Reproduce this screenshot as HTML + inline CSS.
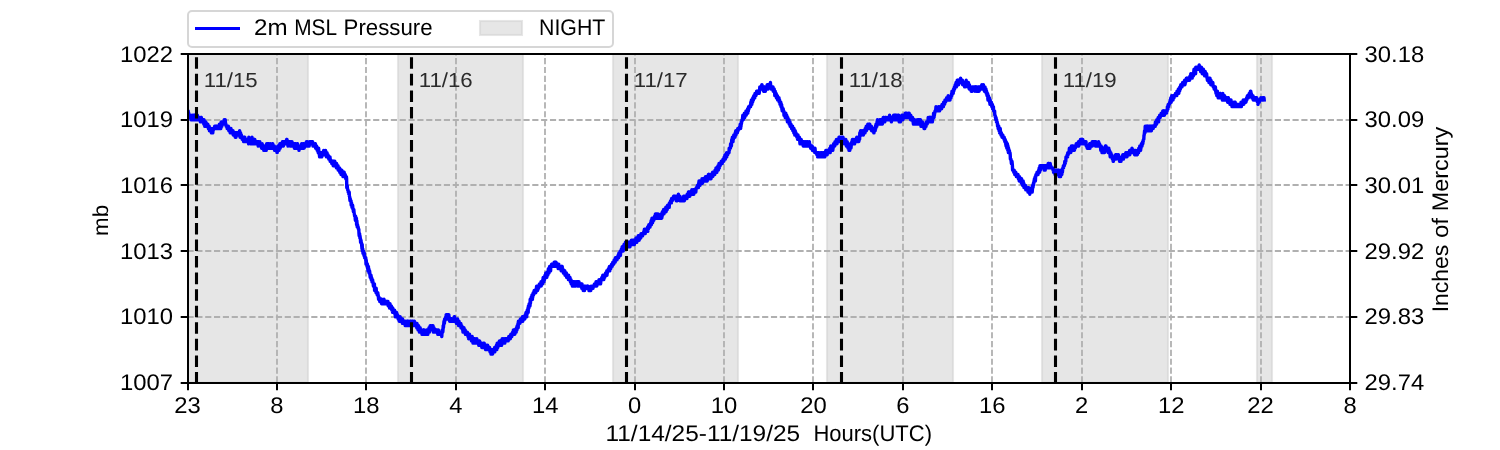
<!DOCTYPE html><html><head><meta charset="utf-8"><style>html,body{margin:0;padding:0;background:#fff;}svg{display:block;will-change:transform;}text{font-family:'Liberation Sans',sans-serif;text-rendering:geometricPrecision}</style></head><body>
<svg width="1500" height="450" viewBox="0 0 1500 450">
<rect width="1500" height="450" fill="#fff"/>
<defs><clipPath id="ax"><rect x="187.5" y="54.0" width="1162.5" height="328.5"/></clipPath></defs>
<g clip-path="url(#ax)">
<rect x="187.50" y="54.0" width="120.50" height="328.5" fill="#d3d3d3" fill-opacity="0.57" stroke="#d3d3d3" stroke-opacity="0.57" stroke-width="2.08"/>
<rect x="398.00" y="54.0" width="125.00" height="328.5" fill="#d3d3d3" fill-opacity="0.57" stroke="#d3d3d3" stroke-opacity="0.57" stroke-width="2.08"/>
<rect x="613.00" y="54.0" width="125.00" height="328.5" fill="#d3d3d3" fill-opacity="0.57" stroke="#d3d3d3" stroke-opacity="0.57" stroke-width="2.08"/>
<rect x="827.00" y="54.0" width="126.00" height="328.5" fill="#d3d3d3" fill-opacity="0.57" stroke="#d3d3d3" stroke-opacity="0.57" stroke-width="2.08"/>
<rect x="1042.00" y="54.0" width="126.00" height="328.5" fill="#d3d3d3" fill-opacity="0.57" stroke="#d3d3d3" stroke-opacity="0.57" stroke-width="2.08"/>
<rect x="1257.00" y="54.0" width="15.00" height="328.5" fill="#d3d3d3" fill-opacity="0.57" stroke="#d3d3d3" stroke-opacity="0.57" stroke-width="2.08"/>
<path d="M277 382.5V54.0M366 382.5V54.0M456 382.5V54.0M545 382.5V54.0M635 382.5V54.0M724 382.5V54.0M813 382.5V54.0M903 382.5V54.0M992 382.5V54.0M1082 382.5V54.0M1171 382.5V54.0M1261 382.5V54.0M187.5 317H1350.0M187.5 251H1350.0M187.5 185H1350.0M187.5 120H1350.0" stroke="#b0b0b0" stroke-width="1.8" stroke-dasharray="6.17 2.67" fill="none"/>
<text x="203.70" y="86.8" font-size="20.3" fill="#2b2b2b" textLength="54.0" lengthAdjust="spacingAndGlyphs">11/15</text>
<text x="418.70" y="86.8" font-size="20.3" fill="#2b2b2b" textLength="54.0" lengthAdjust="spacingAndGlyphs">11/16</text>
<text x="633.70" y="86.8" font-size="20.3" fill="#2b2b2b" textLength="54.0" lengthAdjust="spacingAndGlyphs">11/17</text>
<text x="848.70" y="86.8" font-size="20.3" fill="#2b2b2b" textLength="54.0" lengthAdjust="spacingAndGlyphs">11/18</text>
<text x="1062.70" y="86.8" font-size="20.3" fill="#2b2b2b" textLength="54.0" lengthAdjust="spacingAndGlyphs">11/19</text>
<path d="M188.0 110.9L188.2 110.9L188.4 115.3L188.6 115.3L188.8 113.1L189.0 115.3L189.4 115.3L189.6 117.5L189.8 115.3L190.0 115.3L190.2 117.5L190.8 117.5L191.0 119.7L191.2 117.5L191.4 117.5L191.6 119.7L191.8 117.5L192.0 115.3L192.2 119.7L192.4 117.5L192.6 117.5L192.8 119.7L193.0 117.5L193.2 117.5L193.4 119.7L193.6 115.3L193.8 117.5L194.0 117.5L194.2 115.3L194.4 117.5L194.6 119.7L194.8 115.3L195.0 117.5L195.2 115.3L195.4 117.5L195.6 117.5L195.8 115.3L196.0 119.7L196.2 117.5L196.4 117.5L196.6 119.7L196.8 117.5L197.0 119.7L197.2 119.7L197.4 115.3L197.6 119.7L197.8 117.5L198.2 117.5L198.4 119.7L198.6 117.5L198.8 119.7L199.0 117.5L199.2 119.7L199.6 119.7L199.8 117.5L200.0 117.5L200.2 119.7L200.4 121.9L200.6 119.7L200.8 121.9L201.0 117.5L201.2 121.9L201.4 117.5L201.6 121.9L202.6 121.9L202.8 119.7L203.6 119.7L203.8 124.1L204.0 119.7L204.2 121.9L204.4 121.9L204.6 124.1L204.8 126.3L205.0 124.1L205.2 121.9L205.4 124.1L205.6 124.1L205.8 121.9L206.0 126.3L206.2 124.1L206.4 126.3L207.2 126.3L207.4 124.1L207.6 126.3L207.8 124.1L208.0 126.3L208.2 126.3L208.4 128.5L208.6 126.3L208.8 126.3L209.0 128.5L209.2 126.3L209.4 130.7L209.6 128.5L209.8 128.5L210.0 130.7L210.2 128.5L210.6 128.5L210.8 130.7L211.0 128.5L211.2 130.7L211.4 132.8L211.6 130.7L211.8 130.7L212.0 132.8L212.2 132.8L212.4 130.7L212.6 132.8L212.8 132.8L213.0 128.5L213.2 130.7L213.4 128.5L214.4 128.5L214.6 126.3L215.0 126.3L215.2 128.5L215.4 126.3L216.0 126.3L216.2 128.5L216.4 126.3L216.6 126.3L216.8 128.5L217.0 126.3L217.8 126.3L218.0 128.5L218.2 128.5L218.4 126.3L218.6 126.3L218.8 128.5L219.2 128.5L219.4 124.1L219.6 126.3L219.8 128.5L220.0 124.1L220.2 126.3L220.4 124.1L220.6 128.5L220.8 128.5L221.0 126.3L221.2 121.9L221.4 121.9L221.6 124.1L221.8 126.3L222.0 121.9L222.2 124.1L222.4 124.1L222.6 121.9L222.8 124.1L223.0 121.9L223.2 121.9L223.4 124.1L223.6 121.9L223.8 124.1L224.0 121.9L224.2 119.7L224.4 121.9L224.6 124.1L224.8 121.9L225.0 124.1L225.2 119.7L225.4 121.9L225.6 124.1L226.0 124.1L226.2 126.3L227.0 126.3L227.2 128.5L227.4 126.3L227.6 128.5L228.2 128.5L228.4 126.3L228.6 128.5L228.8 130.7L229.2 130.7L229.4 128.5L229.6 128.5L229.8 130.7L230.0 128.5L230.2 132.8L230.6 132.8L230.8 128.5L231.0 128.5L231.2 132.8L231.4 130.7L231.8 130.7L232.0 132.8L232.2 130.7L232.4 132.8L232.8 132.8L233.0 130.7L233.2 135.0L233.4 132.8L234.0 132.8L234.2 135.0L234.4 132.8L234.6 135.0L234.8 132.8L235.0 135.0L235.2 137.2L235.4 137.2L235.6 132.8L235.8 135.0L236.0 137.2L236.2 132.8L236.4 132.8L236.6 135.0L236.8 135.0L237.0 132.8L237.6 132.8L237.8 135.0L238.0 132.8L238.2 135.0L238.4 132.8L238.8 132.8L239.0 135.0L239.2 132.8L239.4 132.8L239.6 130.7L239.8 135.0L240.0 137.2L240.2 132.8L240.6 132.8L240.8 135.0L241.0 135.0L241.2 137.2L241.4 135.0L241.6 137.2L242.0 137.2L242.2 139.4L242.4 139.4L242.6 137.2L242.8 139.4L243.0 137.2L243.2 137.2L243.4 139.4L243.6 141.6L243.8 141.6L244.0 137.2L244.2 139.4L244.4 137.2L244.8 137.2L245.0 141.6L245.2 141.6L245.4 139.4L245.8 139.4L246.0 141.6L246.2 141.6L246.4 139.4L246.6 139.4L246.8 141.6L248.0 141.6L248.2 139.4L248.4 139.4L248.6 143.8L248.8 137.2L249.0 141.6L249.2 141.6L249.4 139.4L250.4 139.4L250.6 143.8L250.8 139.4L251.0 143.8L251.2 139.4L251.4 143.8L251.6 139.4L251.8 141.6L252.0 137.2L252.2 139.4L252.4 141.6L252.8 141.6L253.0 139.4L253.2 139.4L253.4 141.6L253.6 139.4L253.8 143.8L254.0 141.6L254.2 139.4L254.4 139.4L254.6 141.6L254.8 139.4L255.0 141.6L255.4 141.6L255.6 143.8L256.2 143.8L256.4 141.6L257.0 141.6L257.2 143.8L257.4 143.8L257.6 141.6L257.8 141.6L258.0 143.8L258.2 146.0L258.4 141.6L258.6 141.6L258.8 143.8L259.6 143.8L259.8 141.6L260.0 146.0L260.2 146.0L260.4 143.8L260.8 143.8L261.0 146.0L261.2 143.8L261.4 146.0L261.6 148.2L261.8 146.0L262.0 148.2L262.2 143.8L262.4 148.2L262.6 146.0L262.8 146.0L263.0 148.2L263.2 146.0L263.6 146.0L263.8 150.4L264.0 146.0L264.2 146.0L264.4 150.4L264.6 150.4L264.8 148.2L265.0 146.0L265.2 150.4L265.4 148.2L266.0 148.2L266.2 150.4L266.4 146.0L266.6 143.8L266.8 143.8L267.0 146.0L267.2 148.2L267.4 146.0L267.6 148.2L267.8 143.8L268.0 146.0L268.2 143.8L268.4 146.0L268.6 143.8L268.8 148.2L269.0 143.8L269.2 143.8L269.4 146.0L269.8 146.0L270.0 148.2L270.2 148.2L270.4 143.8L270.6 143.8L270.8 146.0L271.4 146.0L271.6 148.2L271.8 148.2L272.0 146.0L272.2 148.2L272.4 143.8L272.8 143.8L273.0 146.0L273.2 148.2L273.4 146.0L273.6 148.2L273.8 148.2L274.0 146.0L274.4 146.0L274.6 150.4L274.8 148.2L275.2 148.2L275.4 150.4L275.6 150.4L275.8 148.2L276.0 150.4L276.8 150.4L277.0 152.6L277.2 152.6L277.4 148.2L277.6 148.2L277.8 146.0L278.0 148.2L278.2 150.4L278.4 150.4L278.6 148.2L278.8 146.0L279.0 150.4L279.2 148.2L279.4 146.0L279.6 148.2L279.8 143.8L280.0 146.0L280.2 148.2L280.4 143.8L280.6 143.8L280.8 146.0L281.2 146.0L281.4 143.8L281.6 143.8L281.8 146.0L282.0 143.8L282.2 143.8L282.4 141.6L282.6 143.8L282.8 146.0L283.0 141.6L283.2 143.8L283.4 146.0L283.6 143.8L283.8 141.6L284.0 143.8L284.2 141.6L284.6 141.6L284.8 143.8L285.2 143.8L285.4 141.6L285.6 143.8L285.8 143.8L286.0 141.6L286.4 141.6L286.6 139.4L286.8 143.8L287.0 139.4L287.2 143.8L287.4 141.6L287.6 143.8L287.8 143.8L288.0 146.0L288.2 141.6L288.4 141.6L288.6 143.8L289.0 143.8L289.2 141.6L289.4 143.8L289.6 141.6L289.8 141.6L290.0 146.0L290.4 146.0L290.6 141.6L290.8 143.8L291.0 146.0L291.2 143.8L291.4 143.8L291.6 146.0L291.8 146.0L292.0 141.6L292.2 143.8L293.0 143.8L293.2 146.0L293.4 143.8L293.6 143.8L293.8 146.0L294.0 143.8L294.2 143.8L294.4 148.2L294.6 143.8L294.8 143.8L295.0 146.0L295.2 143.8L295.4 146.0L295.6 143.8L295.8 143.8L296.0 148.2L296.2 146.0L296.4 148.2L296.8 148.2L297.0 143.8L297.2 146.0L297.4 143.8L297.6 143.8L297.8 148.2L298.0 146.0L298.2 148.2L298.8 148.2L299.0 150.4L299.2 146.0L299.4 148.2L299.8 148.2L300.0 146.0L300.2 146.0L300.4 148.2L300.6 146.0L300.8 146.0L301.0 148.2L301.2 146.0L301.4 146.0L301.6 143.8L301.8 148.2L302.4 148.2L302.6 146.0L302.8 143.8L303.0 148.2L303.2 146.0L303.4 148.2L303.6 143.8L303.8 148.2L304.0 143.8L304.2 148.2L304.4 146.0L304.8 146.0L305.0 143.8L305.2 146.0L305.4 143.8L306.2 143.8L306.4 141.6L306.6 141.6L306.8 143.8L307.0 146.0L307.2 146.0L307.4 143.8L307.6 141.6L307.8 141.6L308.0 143.8L308.2 143.8L308.4 146.0L308.6 143.8L308.8 146.0L309.2 146.0L309.4 143.8L309.6 143.8L309.8 141.6L310.0 143.8L310.2 141.6L310.4 143.8L310.6 141.6L310.8 143.8L311.0 141.6L311.2 141.6L311.4 143.8L311.8 143.8L312.0 141.6L312.2 143.8L312.4 143.8L312.6 141.6L312.8 143.8L313.0 146.0L313.2 143.8L313.4 146.0L313.6 146.0L313.8 143.8L314.2 143.8L314.4 146.0L314.8 146.0L315.0 143.8L315.2 146.0L315.4 143.8L315.6 148.2L315.8 148.2L316.0 146.0L316.2 148.2L316.4 146.0L316.6 146.0L316.8 148.2L317.0 148.2L317.2 150.4L317.4 148.2L317.6 148.2L317.8 150.4L318.0 148.2L318.2 152.6L318.4 150.4L318.6 148.2L318.8 150.4L319.0 152.6L319.2 154.7L319.4 152.6L319.6 156.9L319.8 156.9L320.0 154.7L320.2 152.6L320.4 154.7L320.6 156.9L320.8 154.7L321.2 154.7L321.4 156.9L321.6 152.6L321.8 156.9L322.0 154.7L322.6 154.7L322.8 152.6L323.4 152.6L323.6 150.4L324.0 150.4L324.2 152.6L324.4 154.7L324.6 154.7L324.8 152.6L325.0 154.7L325.2 154.7L325.4 152.6L325.6 150.4L325.8 154.7L326.2 154.7L326.4 156.9L326.6 154.7L326.8 154.7L327.0 152.6L327.2 154.7L327.4 156.9L327.6 154.7L328.0 154.7L328.2 156.9L328.6 156.9L328.8 159.1L329.6 159.1L329.8 156.9L330.0 156.9L330.2 161.3L330.4 159.1L330.6 161.3L331.6 161.3L331.8 163.5L332.0 163.5L332.2 161.3L332.6 161.3L332.8 163.5L333.0 161.3L333.2 165.7L333.4 161.3L333.6 163.5L333.8 163.5L334.0 165.7L334.4 165.7L334.6 163.5L334.8 161.3L335.0 163.5L335.2 165.7L335.4 163.5L335.6 165.7L335.8 163.5L336.0 165.7L336.2 165.7L336.4 167.9L336.6 163.5L336.8 165.7L337.0 167.9L337.2 165.7L338.0 165.7L338.2 170.1L338.4 170.1L338.6 167.9L338.8 170.1L339.2 170.1L339.4 167.9L339.6 167.9L339.8 172.3L340.0 170.1L340.2 172.3L340.6 172.3L340.8 170.1L341.0 174.5L341.2 174.5L341.4 170.1L341.6 174.5L341.8 170.1L342.0 174.5L342.2 172.3L342.4 174.5L342.6 174.5L342.8 172.3L343.0 176.6L343.2 172.3L343.4 172.3L343.6 174.5L343.8 172.3L344.0 174.5L344.2 172.3L344.4 174.5L344.6 176.6L344.8 176.6L345.0 174.5L345.2 174.5L345.4 176.6L345.6 176.6L345.8 178.8L346.0 178.8L346.2 176.6L346.4 176.6L346.6 178.8L346.8 187.6L347.0 185.4L347.2 185.4L347.4 187.6L347.6 189.8L348.0 189.8L348.2 192.0L348.6 192.0L348.8 194.2L349.0 192.0L349.2 192.0L349.4 196.3L349.6 196.3L349.8 198.5L350.0 200.7L350.2 198.5L350.4 200.7L351.0 200.7L351.2 205.1L351.4 202.9L351.6 202.9L351.8 205.1L352.0 207.3L352.2 205.1L352.4 207.3L352.6 205.1L352.8 207.3L353.0 209.5L353.2 209.5L353.4 211.7L353.6 211.7L353.8 209.5L354.0 211.7L354.2 213.9L354.4 213.9L354.6 216.1L355.0 216.1L355.2 218.2L355.4 220.4L355.6 216.1L355.8 218.2L356.0 218.2L356.2 220.4L356.4 218.2L356.6 224.8L356.8 220.4L357.0 222.6L357.2 227.0L357.4 224.8L357.6 224.8L357.8 227.0L358.2 227.0L358.4 229.2L358.8 229.2L359.0 233.6L359.2 235.8L359.4 233.6L359.6 233.6L359.8 238.0L360.0 235.8L360.2 238.0L360.4 238.0L360.6 242.3L360.8 242.3L361.0 240.2L361.2 242.3L361.4 242.3L361.6 244.5L361.8 246.7L362.0 248.9L362.2 244.5L362.4 251.1L362.6 251.1L362.8 248.9L363.0 253.3L363.4 253.3L363.6 251.1L363.8 253.3L364.0 255.5L364.2 255.5L364.4 253.3L364.6 257.7L365.4 257.7L365.6 259.9L365.8 257.7L366.0 264.2L366.2 259.9L366.4 262.1L366.6 262.1L366.8 264.2L367.0 264.2L367.2 266.4L367.4 264.2L367.6 268.6L367.8 266.4L368.0 270.8L368.2 268.6L368.4 266.4L368.6 270.8L368.8 268.6L369.0 273.0L369.2 273.0L369.4 270.8L369.6 270.8L369.8 273.0L370.0 275.2L370.2 277.4L370.4 275.2L370.6 275.2L370.8 277.4L371.0 275.2L371.2 279.6L371.4 279.6L371.6 277.4L371.8 279.6L372.0 281.8L372.2 281.8L372.4 279.6L372.6 279.6L372.8 281.8L373.0 281.8L373.2 283.9L373.4 286.1L373.6 283.9L373.8 286.1L374.2 286.1L374.4 283.9L374.6 290.5L374.8 288.3L375.0 290.5L375.2 290.5L375.4 288.3L375.6 290.5L375.8 290.5L376.0 292.7L376.2 288.3L376.4 292.7L377.0 292.7L377.2 294.9L377.4 292.7L377.6 294.9L377.8 292.7L378.0 294.9L378.2 294.9L378.4 297.1L378.6 299.3L378.8 299.3L379.0 297.1L379.2 299.3L379.6 299.3L379.8 301.5L380.0 301.5L380.2 299.3L380.4 301.5L380.6 301.5L380.8 299.3L381.0 299.3L381.2 301.5L381.4 299.3L381.6 303.7L381.8 299.3L382.0 301.5L382.2 303.7L382.4 303.7L382.6 301.5L382.8 303.7L383.0 303.7L383.2 301.5L383.4 301.5L383.6 303.7L383.8 301.5L384.0 299.3L384.2 301.5L384.4 301.5L384.6 303.7L385.2 303.7L385.4 301.5L385.6 303.7L385.8 303.7L386.0 301.5L386.2 303.7L386.4 303.7L386.6 301.5L386.8 301.5L387.0 303.7L387.2 301.5L387.4 303.7L387.8 303.7L388.0 301.5L388.2 305.9L388.4 303.7L388.6 305.9L388.8 305.9L389.0 303.7L389.2 305.9L389.4 305.9L389.6 308.0L389.8 305.9L390.0 303.7L390.2 305.9L390.4 305.9L390.6 308.0L390.8 305.9L391.0 308.0L391.2 305.9L391.4 305.9L391.6 308.0L391.8 310.2L392.0 310.2L392.2 308.0L392.4 308.0L392.6 312.4L392.8 308.0L393.0 312.4L393.2 310.2L393.4 312.4L393.8 312.4L394.0 310.2L394.2 310.2L394.4 312.4L394.6 310.2L394.8 312.4L395.0 314.6L395.2 312.4L395.4 316.8L396.0 316.8L396.2 314.6L396.4 316.8L396.6 312.4L396.8 314.6L397.2 314.6L397.4 316.8L397.6 314.6L397.8 316.8L398.0 316.8L398.2 319.0L398.4 319.0L398.6 316.8L398.8 316.8L399.0 319.0L399.2 321.2L399.4 321.2L399.6 319.0L399.8 316.8L400.2 316.8L400.4 319.0L400.8 319.0L401.0 321.2L401.2 319.0L401.4 321.2L401.8 321.2L402.0 319.0L402.2 321.2L402.4 323.4L402.6 319.0L402.8 323.4L403.0 321.2L403.2 323.4L403.4 321.2L403.6 321.2L403.8 323.4L404.4 323.4L404.6 321.2L404.8 323.4L405.0 323.4L405.2 325.6L405.4 325.6L405.6 323.4L405.8 321.2L406.0 325.6L406.2 325.6L406.4 323.4L406.6 325.6L406.8 325.6L407.0 323.4L407.2 323.4L407.4 321.2L407.6 323.4L407.8 321.2L408.0 323.4L408.2 323.4L408.4 325.6L408.6 323.4L408.8 321.2L409.0 323.4L409.4 323.4L409.6 325.6L409.8 323.4L410.0 321.2L410.2 321.2L410.4 323.4L410.6 321.2L410.8 323.4L411.0 325.6L411.2 325.6L411.4 323.4L411.6 323.4L411.8 321.2L412.0 323.4L412.2 321.2L412.4 323.4L412.6 325.6L412.8 323.4L413.0 321.2L413.2 321.2L413.4 323.4L413.6 325.6L413.8 323.4L414.0 325.6L414.2 321.2L414.4 321.2L414.6 325.6L414.8 325.6L415.0 323.4L415.2 325.6L415.4 323.4L415.6 325.6L415.8 323.4L416.0 325.6L416.2 325.6L416.4 323.4L416.6 325.6L416.8 327.8L417.0 323.4L417.2 325.6L417.4 325.6L417.6 327.8L417.8 327.8L418.0 329.9L418.2 325.6L418.4 327.8L418.6 325.6L418.8 327.8L419.0 329.9L419.2 327.8L419.4 332.1L419.6 332.1L419.8 327.8L420.0 332.1L420.2 327.8L420.4 329.9L420.8 329.9L421.0 332.1L421.2 332.1L421.4 329.9L421.6 329.9L421.8 332.1L422.0 334.3L422.2 332.1L422.4 334.3L422.6 332.1L422.8 332.1L423.0 334.3L423.2 329.9L423.4 332.1L423.6 329.9L423.8 332.1L424.0 334.3L424.2 329.9L424.4 332.1L424.6 334.3L425.2 334.3L425.4 332.1L425.6 334.3L425.8 332.1L426.0 334.3L426.2 332.1L426.4 334.3L426.6 329.9L426.8 332.1L427.0 334.3L427.2 334.3L427.4 332.1L427.6 332.1L427.8 334.3L428.0 329.9L428.4 329.9L428.6 332.1L428.8 332.1L429.0 327.8L429.2 332.1L429.4 332.1L429.6 327.8L429.8 329.9L430.0 329.9L430.2 325.6L430.4 329.9L430.6 325.6L430.8 325.6L431.0 327.8L431.6 327.8L431.8 325.6L432.0 327.8L432.2 329.9L432.4 327.8L432.6 325.6L432.8 329.9L433.0 325.6L433.2 327.8L433.4 332.1L433.6 329.9L433.8 327.8L434.0 327.8L434.2 329.9L434.4 329.9L434.6 332.1L434.8 329.9L435.4 329.9L435.6 332.1L435.8 329.9L436.0 329.9L436.2 332.1L436.4 329.9L436.6 332.1L436.8 332.1L437.0 329.9L437.4 329.9L437.6 332.1L437.8 334.3L438.0 332.1L438.2 329.9L438.4 329.9L438.6 334.3L438.8 332.1L439.0 332.1L439.2 334.3L439.4 334.3L439.6 332.1L439.8 334.3L440.6 334.3L440.8 332.1L441.2 332.1L441.4 334.3L441.6 334.3L441.8 336.5L442.0 332.1L442.2 329.9L442.6 329.9L442.8 332.1L443.0 329.9L443.2 325.6L443.4 327.8L443.6 325.6L443.8 323.4L444.0 321.2L444.2 323.4L444.4 323.4L444.6 319.0L444.8 321.2L445.0 319.0L445.6 319.0L445.8 316.8L446.0 319.0L446.2 314.6L446.4 316.8L446.6 314.6L446.8 316.8L447.2 316.8L447.4 319.0L447.6 316.8L447.8 319.0L448.0 314.6L448.2 319.0L448.4 316.8L448.6 314.6L448.8 314.6L449.0 316.8L449.2 316.8L449.4 319.0L449.6 321.2L450.8 321.2L451.0 319.0L451.2 321.2L451.4 319.0L451.6 321.2L451.8 319.0L452.0 321.2L452.2 319.0L452.6 319.0L452.8 321.2L453.2 321.2L453.4 319.0L453.6 319.0L453.8 321.2L454.0 321.2L454.2 316.8L454.4 319.0L454.6 316.8L454.8 321.2L455.4 321.2L455.6 319.0L455.8 319.0L456.0 321.2L456.2 321.2L456.4 323.4L456.6 321.2L456.8 321.2L457.0 323.4L457.2 321.2L457.4 321.2L457.6 319.0L457.8 323.4L458.0 321.2L458.2 321.2L458.4 323.4L458.6 325.6L458.8 321.2L459.0 321.2L459.2 325.6L459.4 325.6L459.6 323.4L459.8 325.6L460.0 323.4L460.2 325.6L460.4 323.4L460.8 323.4L461.0 327.8L461.6 327.8L461.8 325.6L462.0 327.8L462.4 327.8L462.6 329.9L462.8 327.8L463.0 332.1L463.2 329.9L463.4 327.8L463.6 329.9L463.8 332.1L464.0 327.8L464.2 329.9L464.4 329.9L464.6 332.1L464.8 329.9L465.2 329.9L465.4 334.3L465.6 332.1L465.8 334.3L466.4 334.3L466.6 332.1L466.8 332.1L467.0 334.3L467.2 332.1L467.4 332.1L467.6 334.3L467.8 334.3L468.0 336.5L468.4 336.5L468.6 338.7L468.8 334.3L469.0 334.3L469.2 336.5L469.4 336.5L469.6 334.3L469.8 336.5L470.6 336.5L470.8 338.7L471.2 338.7L471.4 340.9L471.6 338.7L471.8 338.7L472.0 340.9L472.2 336.5L472.4 340.9L472.6 338.7L472.8 338.7L473.0 343.1L473.2 340.9L473.4 340.9L473.6 343.1L473.8 343.1L474.0 340.9L474.2 340.9L474.4 338.7L474.6 343.1L474.8 343.1L475.0 338.7L475.2 340.9L475.4 340.9L475.6 343.1L475.8 340.9L476.0 340.9L476.2 343.1L476.4 340.9L476.6 340.9L476.8 338.7L477.0 340.9L477.4 340.9L477.6 343.1L477.8 343.1L478.0 340.9L478.2 340.9L478.4 343.1L478.6 343.1L478.8 345.3L479.0 340.9L479.2 343.1L479.4 340.9L479.6 340.9L479.8 343.1L480.0 345.3L480.4 345.3L480.6 343.1L481.2 343.1L481.4 345.3L481.6 343.1L481.8 347.5L482.0 347.5L482.2 345.3L482.4 345.3L482.6 347.5L482.8 345.3L483.0 347.5L483.2 347.5L483.4 343.1L483.6 347.5L483.8 347.5L484.0 345.3L484.2 343.1L484.4 345.3L484.6 347.5L484.8 345.3L485.0 347.5L485.2 345.3L485.4 347.5L485.6 349.6L485.8 345.3L486.0 347.5L486.2 349.6L486.4 345.3L486.6 347.5L486.8 349.6L487.0 349.6L487.2 347.5L487.4 347.5L487.6 345.3L487.8 349.6L488.6 349.6L488.8 347.5L489.0 349.6L489.2 347.5L489.4 349.6L489.6 347.5L489.8 349.6L490.0 351.8L490.2 349.6L490.4 351.8L490.8 351.8L491.0 354.0L491.2 349.6L491.4 351.8L491.6 349.6L491.8 349.6L492.0 351.8L492.2 349.6L492.4 351.8L492.6 354.0L492.8 351.8L493.0 351.8L493.2 349.6L493.4 351.8L494.0 351.8L494.2 349.6L494.4 349.6L494.6 347.5L494.8 351.8L495.0 347.5L495.2 349.6L495.4 349.6L495.6 347.5L495.8 347.5L496.0 349.6L496.2 347.5L496.4 345.3L496.6 347.5L496.8 349.6L497.0 345.3L497.2 343.1L497.4 347.5L497.6 345.3L497.8 347.5L498.0 345.3L498.2 345.3L498.4 343.1L498.6 343.1L498.8 345.3L499.0 345.3L499.2 343.1L499.4 340.9L499.6 340.9L499.8 345.3L500.0 343.1L500.2 340.9L500.4 340.9L500.6 345.3L500.8 343.1L501.0 340.9L501.4 340.9L501.6 345.3L501.8 340.9L502.0 340.9L502.2 338.7L502.4 340.9L502.6 343.1L502.8 343.1L503.0 340.9L503.2 340.9L503.4 343.1L503.6 340.9L503.8 338.7L504.0 338.7L504.2 340.9L504.4 343.1L504.6 340.9L504.8 343.1L505.0 338.7L505.2 340.9L505.4 338.7L505.6 340.9L505.8 338.7L506.0 338.7L506.2 340.9L506.4 338.7L506.6 340.9L506.8 338.7L507.0 340.9L507.2 338.7L507.4 338.7L507.6 340.9L507.8 338.7L508.0 340.9L508.2 340.9L508.4 338.7L508.6 338.7L508.8 336.5L509.0 338.7L509.2 336.5L509.4 338.7L509.6 336.5L509.8 338.7L510.0 336.5L510.2 338.7L510.4 338.7L510.6 336.5L510.8 334.3L511.2 334.3L511.4 336.5L511.8 336.5L512.0 334.3L512.4 334.3L512.6 332.1L512.8 334.3L513.0 332.1L513.2 334.3L513.4 329.9L513.6 329.9L513.8 334.3L514.0 332.1L514.2 329.9L514.4 334.3L514.6 329.9L514.8 334.3L515.0 332.1L515.2 329.9L515.4 332.1L515.6 332.1L515.8 329.9L516.0 332.1L516.2 332.1L516.4 327.8L516.8 327.8L517.0 329.9L517.2 325.6L517.6 325.6L517.8 327.8L518.0 323.4L518.2 327.8L518.4 321.2L518.6 323.4L518.8 321.2L519.8 321.2L520.0 323.4L520.2 321.2L520.4 319.0L520.6 319.0L520.8 321.2L521.0 319.0L521.6 319.0L521.8 321.2L522.0 319.0L522.2 319.0L522.4 316.8L522.6 319.0L522.8 321.2L523.0 316.8L523.4 316.8L523.6 319.0L523.8 316.8L524.6 316.8L524.8 319.0L525.0 316.8L525.2 314.6L525.4 316.8L525.6 314.6L525.8 314.6L526.0 312.4L526.2 316.8L526.6 316.8L526.8 312.4L527.0 314.6L527.2 310.2L527.4 312.4L527.6 312.4L527.8 310.2L528.0 308.0L528.2 312.4L528.4 305.9L528.6 305.9L528.8 308.0L529.0 308.0L529.2 303.7L529.6 303.7L529.8 305.9L530.0 305.9L530.2 299.3L530.4 303.7L530.6 301.5L530.8 299.3L531.0 299.3L531.2 297.1L531.4 299.3L531.6 299.3L531.8 297.1L532.0 294.9L532.2 297.1L532.4 299.3L532.6 294.9L532.8 297.1L533.0 294.9L533.2 292.7L533.4 294.9L533.6 294.9L533.8 292.7L534.0 292.7L534.2 290.5L534.4 292.7L534.6 290.5L534.8 290.5L535.0 292.7L535.8 292.7L536.0 290.5L536.2 290.5L536.4 288.3L536.6 286.1L536.8 288.3L537.0 290.5L537.2 290.5L537.4 286.1L537.6 290.5L537.8 288.3L538.0 286.1L538.2 288.3L538.4 286.1L538.6 288.3L538.8 286.1L539.2 286.1L539.4 283.9L539.6 286.1L539.8 286.1L540.0 283.9L540.2 286.1L540.4 283.9L540.6 286.1L540.8 286.1L541.0 281.8L541.2 286.1L541.4 283.9L541.6 283.9L541.8 281.8L542.0 283.9L542.2 283.9L542.4 281.8L542.6 283.9L542.8 279.6L543.0 279.6L543.2 277.4L543.4 279.6L543.6 281.8L543.8 279.6L544.0 281.8L544.2 279.6L544.6 279.6L544.8 277.4L545.0 275.2L545.6 275.2L545.8 273.0L546.2 273.0L546.4 275.2L546.6 273.0L546.8 277.4L547.0 275.2L547.8 275.2L548.0 270.8L548.2 270.8L548.4 268.6L548.6 273.0L548.8 270.8L549.0 273.0L549.2 270.8L549.4 270.8L549.6 266.4L549.8 270.8L550.0 266.4L550.2 270.8L550.4 266.4L550.6 270.8L550.8 266.4L551.4 266.4L551.6 264.2L551.8 266.4L552.0 264.2L552.2 266.4L552.4 266.4L552.6 264.2L553.4 264.2L553.6 266.4L553.8 264.2L554.0 266.4L554.2 262.1L554.4 264.2L554.6 264.2L554.8 262.1L555.0 264.2L555.2 266.4L555.4 262.1L555.6 264.2L555.8 264.2L556.0 262.1L556.2 264.2L556.4 264.2L556.6 266.4L557.0 266.4L557.2 264.2L557.4 266.4L557.6 264.2L557.8 266.4L558.0 264.2L558.2 268.6L558.4 266.4L558.6 268.6L558.8 264.2L559.0 266.4L559.2 268.6L559.6 268.6L559.8 266.4L560.0 268.6L561.0 268.6L561.2 270.8L561.4 266.4L561.6 268.6L561.8 266.4L562.0 268.6L562.2 266.4L562.4 270.8L562.6 270.8L562.8 268.6L563.0 270.8L563.2 270.8L563.4 273.0L563.6 273.0L563.8 270.8L564.0 273.0L564.2 270.8L564.4 273.0L564.6 270.8L564.8 270.8L565.0 275.2L565.2 273.0L565.4 273.0L565.6 275.2L565.8 273.0L566.0 275.2L566.2 275.2L566.4 273.0L566.6 277.4L566.8 275.2L567.8 275.2L568.0 277.4L568.2 277.4L568.4 279.6L568.6 275.2L568.8 279.6L569.0 279.6L569.2 277.4L569.4 279.6L569.6 277.4L569.8 279.6L570.0 277.4L570.2 279.6L570.4 281.8L570.6 279.6L570.8 281.8L571.0 279.6L571.2 283.9L571.6 283.9L571.8 281.8L572.0 283.9L572.2 283.9L572.4 286.1L572.6 283.9L572.8 281.8L573.0 283.9L573.2 281.8L573.4 283.9L573.6 281.8L573.8 283.9L574.0 286.1L574.2 281.8L574.4 283.9L575.0 283.9L575.2 281.8L575.4 283.9L575.6 286.1L575.8 283.9L576.2 283.9L576.4 281.8L576.6 283.9L577.2 283.9L577.4 281.8L577.6 286.1L578.2 286.1L578.4 283.9L578.6 286.1L578.8 281.8L579.0 281.8L579.2 283.9L579.4 286.1L579.6 283.9L580.0 283.9L580.2 286.1L580.6 286.1L580.8 283.9L581.0 286.1L581.2 286.1L581.4 283.9L581.6 283.9L581.8 288.3L582.0 283.9L582.2 286.1L582.4 288.3L582.6 288.3L582.8 286.1L583.0 286.1L583.2 290.5L583.4 288.3L584.0 288.3L584.2 286.1L584.4 286.1L584.6 290.5L584.8 286.1L585.0 288.3L585.4 288.3L585.6 286.1L585.8 288.3L586.6 288.3L586.8 286.1L587.0 288.3L587.2 286.1L587.4 288.3L587.6 286.1L587.8 288.3L588.0 288.3L588.2 286.1L588.4 288.3L588.8 288.3L589.0 290.5L589.2 288.3L589.4 288.3L589.6 290.5L589.8 290.5L590.0 288.3L590.2 288.3L590.4 290.5L590.6 288.3L590.8 290.5L591.0 286.1L591.2 286.1L591.4 288.3L591.8 288.3L592.0 286.1L592.4 286.1L592.6 288.3L593.0 288.3L593.2 286.1L594.2 286.1L594.4 283.9L594.6 283.9L594.8 286.1L595.0 283.9L595.2 286.1L595.4 286.1L595.6 283.9L595.8 283.9L596.0 281.8L596.2 283.9L596.4 286.1L596.6 281.8L596.8 286.1L597.0 283.9L597.2 283.9L597.4 281.8L597.6 283.9L597.8 283.9L598.0 281.8L598.8 281.8L599.0 279.6L599.2 279.6L599.4 281.8L599.6 283.9L599.8 283.9L600.0 279.6L600.2 283.9L600.6 283.9L600.8 281.8L601.0 279.6L601.6 279.6L601.8 277.4L602.0 279.6L602.2 277.4L602.6 277.4L602.8 275.2L603.0 279.6L603.2 279.6L603.4 277.4L603.6 279.6L603.8 279.6L604.0 277.4L604.2 275.2L604.4 277.4L604.8 277.4L605.0 275.2L605.4 275.2L605.6 273.0L605.8 275.2L606.0 275.2L606.2 273.0L606.4 273.0L606.6 275.2L606.8 270.8L607.0 275.2L607.2 270.8L607.4 273.0L607.6 270.8L608.2 270.8L608.4 268.6L609.2 268.6L609.4 266.4L609.6 266.4L609.8 270.8L610.0 266.4L610.4 266.4L610.6 268.6L610.8 268.6L611.0 266.4L611.4 266.4L611.6 264.2L611.8 266.4L612.2 266.4L612.4 264.2L612.6 264.2L612.8 262.1L613.0 264.2L613.2 264.2L613.4 262.1L613.6 262.1L613.8 264.2L614.0 262.1L614.2 259.9L614.4 262.1L615.2 262.1L615.4 257.7L615.6 257.7L615.8 259.9L616.0 259.9L616.2 257.7L616.4 259.9L617.0 259.9L617.2 257.7L617.8 257.7L618.0 255.5L618.2 257.7L618.4 255.5L618.6 257.7L618.8 253.3L619.0 255.5L619.8 255.5L620.0 251.1L620.2 251.1L620.4 255.5L620.6 253.3L620.8 251.1L621.2 251.1L621.4 248.9L621.6 251.1L621.8 248.9L622.0 251.1L622.2 246.7L622.4 246.7L622.6 248.9L622.8 246.7L623.0 246.7L623.2 251.1L623.4 248.9L623.8 248.9L624.0 244.5L624.4 244.5L624.6 246.7L624.8 246.7L625.0 244.5L625.2 244.5L625.4 242.3L625.6 242.3L625.8 244.5L626.0 242.3L626.2 242.3L626.4 244.5L626.6 242.3L626.8 244.5L627.0 242.3L627.2 244.5L627.4 242.3L627.6 244.5L627.8 246.7L628.0 242.3L628.2 244.5L628.4 244.5L628.6 242.3L629.6 242.3L629.8 244.5L630.0 246.7L630.2 242.3L630.4 244.5L630.6 244.5L630.8 242.3L631.0 244.5L631.2 242.3L631.4 240.2L631.6 240.2L631.8 244.5L632.0 244.5L632.2 242.3L632.4 244.5L632.6 240.2L632.8 240.2L633.0 244.5L633.2 240.2L633.4 242.3L633.6 242.3L633.8 240.2L634.0 242.3L634.2 242.3L634.4 244.5L634.6 242.3L634.8 242.3L635.0 240.2L635.2 242.3L635.4 240.2L635.6 242.3L635.8 240.2L636.0 238.0L636.2 242.3L636.8 242.3L637.0 240.2L637.2 238.0L637.8 238.0L638.0 240.2L638.2 235.8L638.4 238.0L638.6 240.2L638.8 238.0L639.0 240.2L639.2 240.2L639.4 238.0L639.6 235.8L639.8 238.0L640.0 235.8L640.2 235.8L640.4 238.0L640.8 238.0L641.0 233.6L641.2 235.8L641.4 233.6L641.8 233.6L642.0 235.8L642.6 235.8L642.8 233.6L643.6 233.6L643.8 231.4L644.0 233.6L644.2 231.4L644.4 229.2L644.6 233.6L644.8 231.4L645.0 233.6L645.2 233.6L645.4 229.2L645.6 229.2L645.8 231.4L646.0 229.2L646.2 229.2L646.4 231.4L646.6 229.2L647.2 229.2L647.4 231.4L647.6 227.0L647.8 231.4L648.0 229.2L648.4 229.2L648.6 227.0L648.8 224.8L649.0 227.0L649.2 224.8L649.4 227.0L649.6 224.8L649.8 227.0L650.0 227.0L650.2 224.8L650.4 224.8L650.6 222.6L650.8 224.8L651.0 222.6L651.2 220.4L651.4 224.8L651.6 222.6L651.8 220.4L652.0 218.2L652.2 220.4L652.4 222.6L652.6 222.6L652.8 218.2L653.0 220.4L653.8 220.4L654.0 218.2L654.4 218.2L654.6 216.1L654.8 218.2L655.0 216.1L655.2 216.1L655.4 213.9L656.4 213.9L656.6 218.2L656.8 216.1L657.0 213.9L657.2 213.9L657.4 218.2L657.6 216.1L657.8 216.1L658.0 213.9L658.2 216.1L658.6 216.1L658.8 218.2L660.0 218.2L660.2 216.1L660.4 216.1L660.6 218.2L660.8 216.1L661.0 213.9L661.2 218.2L661.4 213.9L661.6 213.9L661.8 218.2L662.0 216.1L662.2 216.1L662.4 211.7L663.4 211.7L663.6 209.5L663.8 213.9L664.0 213.9L664.2 211.7L664.4 211.7L664.6 209.5L664.8 211.7L665.0 209.5L665.2 211.7L665.4 209.5L665.6 209.5L665.8 207.3L666.0 209.5L666.2 211.7L666.4 209.5L666.6 207.3L666.8 207.3L667.0 209.5L667.2 209.5L667.4 207.3L667.6 205.1L667.8 205.1L668.0 207.3L668.8 207.3L669.0 205.1L669.2 207.3L669.4 202.9L670.4 202.9L670.6 200.7L670.8 200.7L671.0 202.9L671.2 200.7L671.4 202.9L671.6 198.5L671.8 198.5L672.0 200.7L672.2 198.5L672.4 200.7L672.6 198.5L673.4 198.5L673.6 196.3L673.8 198.5L674.0 196.3L674.2 196.3L674.4 198.5L674.6 196.3L674.8 198.5L675.4 198.5L675.6 196.3L675.8 198.5L676.0 198.5L676.2 200.7L676.4 198.5L676.8 198.5L677.0 196.3L677.2 196.3L677.4 200.7L677.6 198.5L678.0 198.5L678.2 196.3L678.4 194.2L678.6 198.5L678.8 196.3L679.4 196.3L679.6 198.5L679.8 200.7L680.0 196.3L680.2 198.5L680.8 198.5L681.0 200.7L681.2 198.5L681.4 200.7L681.6 198.5L681.8 200.7L682.0 200.7L682.2 198.5L682.8 198.5L683.0 200.7L683.2 200.7L683.4 198.5L683.6 196.3L683.8 198.5L684.0 198.5L684.2 200.7L684.4 200.7L684.6 198.5L684.8 198.5L685.0 196.3L685.2 198.5L686.2 198.5L686.4 196.3L686.8 196.3L687.0 198.5L687.2 194.2L687.4 194.2L687.6 196.3L687.8 196.3L688.0 194.2L688.2 196.3L688.4 192.0L688.6 192.0L688.8 194.2L689.0 192.0L689.2 196.3L689.4 196.3L689.6 192.0L689.8 196.3L690.0 194.2L690.2 194.2L690.4 192.0L690.6 194.2L690.8 192.0L691.0 194.2L691.2 192.0L691.4 192.0L691.6 194.2L691.8 189.8L692.0 189.8L692.2 192.0L692.4 194.2L692.6 194.2L692.8 192.0L693.0 189.8L693.2 189.8L693.4 194.2L693.6 192.0L693.8 194.2L694.0 189.8L694.2 192.0L694.4 189.8L694.6 189.8L694.8 192.0L695.0 192.0L695.2 189.8L695.4 192.0L695.8 192.0L696.0 189.8L696.2 187.6L697.2 187.6L697.4 185.4L697.8 185.4L698.0 187.6L698.4 187.6L698.6 183.2L698.8 185.4L699.0 181.0L699.2 183.2L699.4 183.2L699.6 181.0L699.8 181.0L700.0 185.4L700.2 183.2L700.4 183.2L700.6 181.0L700.8 183.2L701.2 183.2L701.4 181.0L701.6 183.2L701.8 183.2L702.0 178.8L702.2 181.0L702.4 181.0L702.6 183.2L702.8 181.0L703.0 178.8L703.2 181.0L703.4 181.0L703.6 178.8L703.8 181.0L704.2 181.0L704.4 178.8L704.6 181.0L704.8 178.8L705.0 181.0L705.2 178.8L705.4 176.6L705.6 176.6L705.8 178.8L706.0 181.0L706.2 178.8L706.4 176.6L706.6 176.6L706.8 181.0L707.0 178.8L707.2 181.0L707.4 178.8L707.8 178.8L708.0 176.6L708.2 176.6L708.4 174.5L708.6 178.8L708.8 174.5L709.0 178.8L709.2 174.5L709.4 176.6L709.6 178.8L709.8 176.6L710.2 176.6L710.4 174.5L710.6 178.8L710.8 176.6L711.0 178.8L711.2 176.6L711.4 174.5L711.6 176.6L711.8 176.6L712.0 174.5L712.2 176.6L712.4 176.6L712.6 172.3L712.8 176.6L713.0 174.5L713.4 174.5L713.6 172.3L714.2 172.3L714.4 174.5L714.6 172.3L714.8 174.5L715.0 170.1L715.2 170.1L715.4 172.3L715.6 172.3L715.8 170.1L716.0 167.9L716.2 170.1L716.4 172.3L716.6 170.1L716.8 172.3L717.0 167.9L717.2 170.1L717.4 167.9L717.8 167.9L718.0 165.7L718.2 167.9L718.4 170.1L718.6 167.9L718.8 167.9L719.0 163.5L719.2 167.9L719.4 167.9L719.6 165.7L720.2 165.7L720.4 163.5L721.0 163.5L721.2 161.3L721.6 161.3L721.8 163.5L722.2 163.5L722.4 161.3L722.8 161.3L723.0 159.1L723.2 159.1L723.4 161.3L723.6 159.1L723.8 161.3L724.0 159.1L724.2 156.9L724.4 156.9L724.6 159.1L724.8 159.1L725.0 154.7L725.2 154.7L725.4 159.1L725.6 156.9L725.8 154.7L726.0 154.7L726.2 156.9L726.4 156.9L726.6 152.6L726.8 156.9L727.0 154.7L727.2 154.7L727.4 152.6L727.6 152.6L727.8 154.7L728.0 152.6L729.0 152.6L729.2 148.2L729.4 150.4L729.6 148.2L730.4 148.2L730.6 143.8L730.8 146.0L731.4 146.0L731.6 141.6L731.8 139.4L732.0 139.4L732.2 141.6L732.4 137.2L732.6 137.2L732.8 139.4L733.0 141.6L733.2 137.2L733.4 139.4L733.6 137.2L733.8 135.0L734.0 137.2L734.2 135.0L734.4 135.0L734.6 137.2L735.0 137.2L735.2 132.8L735.4 135.0L735.6 132.8L735.8 130.7L736.0 135.0L736.2 130.7L736.4 132.8L736.6 132.8L736.8 130.7L737.2 130.7L737.4 132.8L737.6 130.7L737.8 128.5L738.0 128.5L738.2 130.7L738.4 128.5L739.6 128.5L739.8 126.3L740.0 126.3L740.2 124.1L740.4 126.3L740.6 128.5L740.8 126.3L741.0 126.3L741.2 121.9L741.4 124.1L741.6 121.9L741.8 121.9L742.0 119.7L742.4 119.7L742.6 117.5L742.8 115.3L743.0 117.5L743.2 117.5L743.4 119.7L743.6 117.5L744.0 117.5L744.2 115.3L744.4 113.1L744.6 117.5L744.8 117.5L745.0 113.1L745.4 113.1L745.6 115.3L745.8 115.3L746.0 110.9L746.2 115.3L746.4 113.1L746.6 110.9L747.4 110.9L747.6 108.8L747.8 113.1L748.0 108.8L748.2 108.8L748.4 110.9L748.6 106.6L748.8 106.6L749.0 108.8L749.2 106.6L750.2 106.6L750.4 104.4L750.6 106.6L750.8 102.2L751.0 104.4L751.2 104.4L751.4 100.0L751.6 102.2L751.8 104.4L752.0 100.0L752.4 100.0L752.6 102.2L752.8 97.8L753.0 97.8L753.2 100.0L753.4 100.0L753.6 97.8L753.8 95.6L754.2 95.6L754.4 97.8L754.8 97.8L755.0 93.4L755.2 95.6L755.6 95.6L755.8 93.4L756.0 95.6L756.2 93.4L756.4 93.4L756.6 91.2L756.8 93.4L757.0 93.4L757.2 91.2L757.4 93.4L757.6 91.2L757.8 91.2L758.0 93.4L758.6 93.4L758.8 91.2L759.0 93.4L759.2 93.4L759.4 91.2L759.6 91.2L759.8 86.9L760.0 86.9L760.2 89.0L760.4 89.0L760.6 86.9L760.8 89.0L761.0 86.9L761.2 89.0L761.6 89.0L761.8 84.7L762.0 84.7L762.2 89.0L762.6 89.0L762.8 86.9L763.0 86.9L763.2 89.0L763.4 86.9L763.6 91.2L763.8 89.0L764.0 86.9L764.2 86.9L764.4 91.2L764.6 86.9L765.0 86.9L765.2 89.0L765.4 91.2L765.6 86.9L765.8 89.0L766.0 86.9L766.2 89.0L766.6 89.0L766.8 86.9L767.0 89.0L767.2 84.7L767.6 84.7L767.8 89.0L768.0 89.0L768.2 86.9L768.4 84.7L768.6 84.7L768.8 86.9L769.4 86.9L769.6 84.7L769.8 84.7L770.0 86.9L770.2 84.7L770.4 82.5L770.6 84.7L770.8 86.9L771.0 86.9L771.2 89.0L771.4 89.0L771.6 86.9L771.8 89.0L772.0 86.9L772.4 86.9L772.6 89.0L772.8 89.0L773.0 86.9L773.2 91.2L773.4 89.0L773.6 89.0L773.8 91.2L774.0 91.2L774.2 89.0L774.4 91.2L774.6 91.2L774.8 95.6L775.0 93.4L775.2 91.2L775.4 95.6L775.8 95.6L776.0 93.4L776.2 93.4L776.4 97.8L776.8 97.8L777.0 95.6L777.4 95.6L777.6 100.0L777.8 97.8L778.0 100.0L778.6 100.0L778.8 97.8L779.0 97.8L779.2 102.2L779.4 100.0L779.6 100.0L779.8 102.2L780.0 104.4L780.4 104.4L780.6 102.2L780.8 102.2L781.0 106.6L781.2 106.6L781.4 104.4L781.6 104.4L781.8 108.8L782.0 106.6L782.2 110.9L782.4 108.8L782.6 108.8L782.8 110.9L783.0 110.9L783.2 108.8L783.4 110.9L783.8 110.9L784.0 115.3L784.2 113.1L784.4 113.1L784.6 115.3L785.0 115.3L785.2 117.5L785.4 115.3L785.6 115.3L785.8 113.1L786.0 115.3L786.2 115.3L786.4 117.5L786.6 115.3L786.8 115.3L787.0 117.5L787.2 119.7L787.4 121.9L787.6 119.7L787.8 117.5L788.0 121.9L788.2 119.7L788.4 119.7L788.6 121.9L788.8 119.7L789.0 119.7L789.2 124.1L789.4 121.9L789.6 121.9L789.8 124.1L790.0 121.9L790.2 126.3L790.4 124.1L790.6 126.3L790.8 126.3L791.0 124.1L791.2 126.3L791.4 126.3L791.6 128.5L791.8 126.3L792.0 126.3L792.2 128.5L792.4 128.5L792.6 126.3L792.8 130.7L793.0 128.5L793.2 130.7L793.4 128.5L793.6 130.7L793.8 132.8L794.0 128.5L794.2 132.8L794.4 130.7L794.6 132.8L794.8 135.0L795.0 132.8L795.2 130.7L795.4 135.0L795.8 135.0L796.0 132.8L796.2 135.0L796.6 135.0L796.8 137.2L797.0 135.0L797.2 135.0L797.4 137.2L797.6 139.4L797.8 137.2L798.0 135.0L798.2 139.4L799.2 139.4L799.4 137.2L799.6 139.4L799.8 141.6L800.0 143.8L800.2 139.4L800.4 141.6L801.0 141.6L801.2 139.4L801.4 141.6L801.8 141.6L802.0 143.8L802.2 143.8L802.4 141.6L802.6 141.6L802.8 143.8L803.0 141.6L803.2 146.0L803.4 143.8L803.6 141.6L804.0 141.6L804.2 143.8L804.8 143.8L805.0 146.0L805.2 143.8L805.4 141.6L805.6 143.8L805.8 146.0L806.4 146.0L806.6 141.6L806.8 143.8L807.6 143.8L807.8 146.0L808.0 141.6L808.2 143.8L808.4 143.8L808.6 146.0L808.8 146.0L809.0 143.8L809.2 141.6L809.4 141.6L809.6 146.0L809.8 143.8L810.0 146.0L810.4 146.0L810.6 148.2L810.8 146.0L811.6 146.0L811.8 148.2L812.0 148.2L812.2 146.0L812.4 150.4L812.6 150.4L812.8 148.2L813.4 148.2L813.6 150.4L813.8 150.4L814.0 148.2L814.2 148.2L814.4 150.4L814.6 150.4L814.8 152.6L815.0 148.2L815.2 150.4L815.4 152.6L816.6 152.6L816.8 154.7L817.0 154.7L817.2 152.6L817.4 154.7L817.6 156.9L817.8 154.7L818.0 156.9L818.2 154.7L818.4 154.7L818.6 152.6L818.8 154.7L819.0 152.6L819.2 156.9L819.4 156.9L819.6 154.7L819.8 154.7L820.0 156.9L820.2 156.9L820.4 154.7L820.6 154.7L820.8 152.6L821.0 156.9L821.2 152.6L821.4 152.6L821.6 156.9L821.8 156.9L822.0 154.7L822.2 156.9L822.4 156.9L822.6 154.7L822.8 152.6L823.0 152.6L823.2 154.7L823.4 152.6L823.6 152.6L823.8 154.7L824.6 154.7L824.8 156.9L825.0 152.6L825.6 152.6L825.8 150.4L826.0 152.6L826.2 152.6L826.4 150.4L826.8 150.4L827.0 152.6L827.2 154.7L827.4 150.4L827.6 150.4L827.8 152.6L828.0 150.4L828.2 152.6L828.4 152.6L828.6 150.4L828.8 152.6L829.0 150.4L829.2 150.4L829.4 152.6L829.6 150.4L829.8 148.2L830.0 148.2L830.2 152.6L830.4 148.2L830.6 148.2L830.8 146.0L831.0 146.0L831.2 148.2L831.4 148.2L831.6 150.4L831.8 148.2L832.0 146.0L832.2 148.2L832.4 146.0L832.6 150.4L832.8 150.4L833.0 148.2L833.2 148.2L833.4 146.0L833.6 143.8L833.8 146.0L834.0 143.8L834.2 146.0L834.4 146.0L834.6 143.8L834.8 146.0L835.0 141.6L835.2 143.8L835.4 141.6L835.6 143.8L835.8 141.6L836.0 141.6L836.2 143.8L836.4 139.4L836.6 143.8L836.8 141.6L837.0 143.8L837.2 141.6L837.4 139.4L837.6 139.4L837.8 141.6L838.0 139.4L838.4 139.4L838.6 141.6L838.8 139.4L839.0 137.2L839.2 139.4L839.4 137.2L839.6 139.4L839.8 141.6L840.0 139.4L840.2 141.6L840.4 137.2L840.6 139.4L841.4 139.4L841.6 137.2L841.8 137.2L842.0 139.4L842.2 137.2L842.4 139.4L842.8 139.4L843.0 137.2L843.2 139.4L843.4 141.6L843.6 139.4L844.0 139.4L844.2 141.6L844.4 143.8L844.6 141.6L844.8 139.4L845.0 143.8L845.2 141.6L845.6 141.6L845.8 139.4L846.0 141.6L846.2 143.8L846.4 146.0L846.6 146.0L846.8 143.8L847.0 143.8L847.2 141.6L847.4 146.0L847.6 143.8L847.8 146.0L848.0 148.2L848.2 143.8L848.4 148.2L848.6 148.2L848.8 146.0L849.0 150.4L849.2 146.0L849.4 148.2L849.6 146.0L849.8 150.4L850.0 148.2L850.2 146.0L850.4 143.8L850.6 148.2L850.8 146.0L851.0 148.2L851.2 146.0L851.4 143.8L851.6 143.8L851.8 141.6L852.2 141.6L852.4 139.4L852.6 139.4L852.8 141.6L853.0 143.8L853.2 141.6L853.4 143.8L853.6 141.6L853.8 139.4L854.0 141.6L854.4 141.6L854.6 143.8L854.8 139.4L855.0 139.4L855.2 141.6L855.4 139.4L855.6 141.6L855.8 141.6L856.0 139.4L856.2 139.4L856.4 141.6L856.6 141.6L856.8 137.2L857.0 139.4L858.2 139.4L858.4 137.2L858.6 139.4L858.8 141.6L859.0 139.4L859.6 139.4L859.8 132.8L860.4 132.8L860.6 130.7L860.8 132.8L861.0 135.0L861.2 135.0L861.4 132.8L861.6 132.8L861.8 130.7L862.0 135.0L862.2 132.8L862.6 132.8L862.8 130.7L863.2 130.7L863.4 135.0L863.6 130.7L863.8 132.8L864.2 132.8L864.4 130.7L864.6 132.8L864.8 130.7L865.0 132.8L865.2 128.5L865.6 128.5L865.8 130.7L866.0 128.5L866.2 126.3L866.4 130.7L866.6 126.3L866.8 126.3L867.0 128.5L867.2 128.5L867.4 126.3L867.6 126.3L867.8 124.1L868.0 126.3L868.2 124.1L868.4 124.1L868.6 126.3L868.8 126.3L869.0 128.5L869.2 126.3L869.4 124.1L869.6 128.5L869.8 124.1L870.0 126.3L870.2 128.5L870.4 126.3L870.6 126.3L870.8 128.5L871.0 128.5L871.2 126.3L871.4 126.3L871.6 130.7L871.8 128.5L872.0 128.5L872.2 130.7L872.6 130.7L872.8 128.5L873.0 130.7L873.4 130.7L873.6 128.5L873.8 132.8L874.0 132.8L874.2 128.5L874.4 130.7L874.6 128.5L874.8 128.5L875.0 130.7L875.2 130.7L875.4 126.3L875.6 126.3L875.8 128.5L876.0 124.1L876.6 124.1L876.8 126.3L877.0 121.9L877.2 121.9L877.4 119.7L877.6 121.9L877.8 124.1L878.0 121.9L879.0 121.9L879.2 124.1L879.4 121.9L879.6 119.7L880.2 119.7L880.4 124.1L880.6 119.7L880.8 124.1L881.0 121.9L881.2 124.1L881.4 119.7L881.6 124.1L881.8 119.7L882.0 119.7L882.2 121.9L882.4 124.1L882.6 121.9L882.8 121.9L883.0 119.7L883.2 117.5L883.4 117.5L883.6 119.7L883.8 117.5L884.0 121.9L884.2 119.7L884.4 121.9L884.8 121.9L885.0 117.5L885.2 117.5L885.4 119.7L885.6 117.5L885.8 117.5L886.0 119.7L886.6 119.7L886.8 117.5L887.2 117.5L887.4 119.7L887.8 119.7L888.0 117.5L888.2 117.5L888.4 119.7L888.6 117.5L888.8 119.7L889.0 117.5L889.2 119.7L889.4 119.7L889.6 115.3L889.8 117.5L890.0 119.7L890.2 119.7L890.4 117.5L890.6 119.7L891.0 119.7L891.2 117.5L891.4 121.9L891.6 117.5L891.8 119.7L892.0 119.7L892.2 117.5L892.4 119.7L892.6 117.5L893.2 117.5L893.4 119.7L893.6 115.3L893.8 119.7L894.2 119.7L894.4 117.5L894.6 115.3L894.8 117.5L895.0 115.3L895.2 119.7L895.4 115.3L895.6 119.7L895.8 117.5L896.2 117.5L896.4 115.3L896.6 117.5L897.2 117.5L897.4 119.7L897.6 117.5L897.8 119.7L898.0 115.3L898.2 117.5L898.4 117.5L898.6 115.3L898.8 119.7L899.0 117.5L899.2 121.9L899.4 119.7L900.2 119.7L900.4 121.9L900.6 117.5L900.8 119.7L901.0 117.5L901.2 117.5L901.4 119.7L901.6 119.7L901.8 115.3L902.0 119.7L902.2 119.7L902.4 115.3L902.6 115.3L902.8 117.5L903.0 119.7L903.2 117.5L903.4 117.5L903.6 115.3L903.8 117.5L904.0 117.5L904.2 115.3L904.4 115.3L904.6 117.5L904.8 117.5L905.0 115.3L905.2 113.1L905.4 115.3L905.6 115.3L905.8 113.1L906.0 113.1L906.2 115.3L906.4 113.1L906.6 117.5L906.8 115.3L907.0 117.5L907.2 115.3L907.4 115.3L907.6 117.5L907.8 115.3L908.0 115.3L908.2 113.1L908.4 113.1L908.6 117.5L908.8 115.3L909.0 117.5L909.2 113.1L909.4 115.3L909.6 117.5L909.8 117.5L910.0 115.3L910.2 117.5L910.4 115.3L910.6 119.7L910.8 115.3L911.0 117.5L911.2 119.7L911.4 117.5L911.6 119.7L912.2 119.7L912.4 117.5L912.6 117.5L912.8 119.7L913.0 121.9L913.2 121.9L913.4 124.1L913.6 119.7L913.8 119.7L914.0 124.1L914.2 119.7L914.4 121.9L914.6 119.7L914.8 121.9L915.0 124.1L915.2 121.9L915.6 121.9L915.8 124.1L916.4 124.1L916.6 121.9L916.8 121.9L917.0 124.1L917.2 119.7L917.4 124.1L917.6 124.1L917.8 121.9L918.0 124.1L918.4 124.1L918.6 121.9L918.8 119.7L919.0 124.1L919.2 119.7L919.4 121.9L919.6 121.9L919.8 124.1L920.0 124.1L920.2 121.9L920.4 119.7L920.6 124.1L920.8 121.9L921.0 126.3L921.2 124.1L921.4 124.1L921.6 126.3L921.8 121.9L922.0 126.3L922.2 126.3L922.4 121.9L922.6 124.1L922.8 126.3L923.0 124.1L923.2 126.3L923.4 124.1L923.6 126.3L923.8 124.1L924.0 128.5L924.2 126.3L924.6 126.3L924.8 128.5L925.0 124.1L925.2 124.1L925.4 126.3L925.6 124.1L925.8 124.1L926.0 126.3L926.2 121.9L927.0 121.9L927.2 124.1L927.4 121.9L928.0 121.9L928.2 117.5L928.4 121.9L928.6 121.9L928.8 119.7L929.0 121.9L929.2 119.7L929.4 117.5L929.6 121.9L929.8 117.5L930.0 121.9L930.2 117.5L930.4 119.7L930.6 117.5L930.8 121.9L931.0 119.7L931.2 117.5L932.2 117.5L932.4 121.9L932.6 117.5L932.8 119.7L933.0 117.5L933.4 117.5L933.6 113.1L933.8 113.1L934.0 117.5L934.2 115.3L934.4 115.3L934.6 113.1L934.8 113.1L935.0 110.9L935.6 110.9L935.8 108.8L936.0 106.6L936.2 108.8L936.4 110.9L937.6 110.9L937.8 108.8L938.0 110.9L938.2 108.8L938.4 106.6L938.6 106.6L938.8 110.9L939.6 110.9L939.8 108.8L940.0 106.6L940.2 106.6L940.4 108.8L940.6 106.6L941.4 106.6L941.6 108.8L941.8 106.6L942.0 104.4L942.2 104.4L942.4 106.6L942.6 106.6L942.8 104.4L943.2 104.4L943.4 106.6L943.6 102.2L943.8 104.4L944.2 104.4L944.4 102.2L944.6 104.4L944.8 102.2L945.0 100.0L945.2 102.2L945.4 100.0L945.6 102.2L945.8 100.0L946.4 100.0L946.6 97.8L947.0 97.8L947.2 100.0L948.0 100.0L948.2 95.6L948.4 100.0L948.6 97.8L948.8 97.8L949.0 100.0L949.2 97.8L949.4 97.8L949.6 100.0L949.8 97.8L950.0 100.0L950.2 97.8L951.0 97.8L951.2 95.6L951.4 95.6L951.6 93.4L951.8 95.6L952.0 91.2L952.2 93.4L952.4 91.2L952.8 91.2L953.0 93.4L953.2 93.4L953.4 91.2L953.6 89.0L953.8 91.2L954.0 89.0L954.2 89.0L954.4 86.9L954.6 89.0L954.8 86.9L955.0 86.9L955.2 84.7L955.4 86.9L955.6 84.7L955.8 86.9L956.0 82.5L956.2 84.7L956.4 86.9L956.6 82.5L956.8 82.5L957.0 84.7L957.2 80.3L957.4 82.5L957.6 82.5L957.8 80.3L958.0 84.7L958.2 80.3L958.4 84.7L958.6 84.7L958.8 80.3L959.0 80.3L959.2 82.5L959.4 80.3L960.0 80.3L960.2 82.5L960.4 82.5L960.6 78.1L960.8 80.3L961.0 82.5L961.8 82.5L962.0 80.3L962.2 82.5L962.4 80.3L962.6 84.7L963.4 84.7L963.6 82.5L963.8 82.5L964.0 84.7L964.2 84.7L964.4 82.5L964.6 86.9L964.8 84.7L965.0 82.5L965.2 84.7L965.4 86.9L965.6 84.7L966.0 84.7L966.2 80.3L966.4 84.7L966.6 84.7L966.8 82.5L967.0 82.5L967.2 84.7L967.4 82.5L967.6 84.7L967.8 86.9L968.0 84.7L968.2 86.9L968.4 82.5L968.6 84.7L969.0 84.7L969.2 89.0L969.4 84.7L969.6 86.9L969.8 89.0L970.0 86.9L970.2 86.9L970.4 89.0L970.8 89.0L971.0 86.9L971.2 91.2L971.4 89.0L971.6 89.0L971.8 91.2L972.0 89.0L972.2 86.9L972.4 91.2L972.6 89.0L973.4 89.0L973.6 86.9L974.0 86.9L974.2 89.0L974.4 86.9L974.6 89.0L974.8 89.0L975.0 91.2L975.2 86.9L975.4 89.0L975.6 86.9L975.8 89.0L976.0 86.9L976.4 86.9L976.6 91.2L976.8 86.9L977.4 86.9L977.6 89.0L977.8 91.2L978.0 89.0L978.2 91.2L978.4 89.0L978.6 86.9L978.8 91.2L979.0 86.9L979.2 91.2L979.4 89.0L979.6 86.9L979.8 89.0L980.2 89.0L980.4 86.9L981.0 86.9L981.2 89.0L981.4 86.9L981.6 86.9L981.8 84.7L982.2 84.7L982.4 89.0L982.8 89.0L983.0 86.9L983.2 89.0L983.4 84.7L983.6 89.0L983.8 86.9L984.2 86.9L984.4 91.2L984.8 91.2L985.0 86.9L985.2 91.2L985.4 89.0L985.6 89.0L985.8 91.2L986.0 89.0L986.2 93.4L986.4 93.4L986.6 91.2L986.8 93.4L987.0 95.6L987.4 95.6L987.6 93.4L987.8 97.8L988.0 100.0L988.2 97.8L988.4 95.6L988.6 100.0L988.8 100.0L989.0 97.8L989.4 97.8L989.6 102.2L989.8 102.2L990.0 104.4L990.2 100.0L990.4 102.2L990.6 102.2L990.8 104.4L991.0 104.4L991.2 102.2L991.4 102.2L991.6 104.4L991.8 106.6L992.0 104.4L992.2 106.6L992.4 104.4L992.6 108.8L993.0 108.8L993.2 106.6L993.4 106.6L993.6 110.9L994.6 110.9L994.8 115.3L995.2 115.3L995.4 117.5L995.6 117.5L995.8 119.7L996.0 117.5L996.2 119.7L996.4 121.9L996.6 119.7L996.8 121.9L997.2 121.9L997.4 124.1L997.6 126.3L997.8 124.1L998.0 126.3L998.2 128.5L998.4 126.3L998.6 128.5L998.8 126.3L999.0 130.7L999.4 130.7L999.6 132.8L999.8 130.7L1000.0 130.7L1000.2 128.5L1000.4 130.7L1000.6 132.8L1000.8 132.8L1001.0 135.0L1001.2 135.0L1001.4 132.8L1001.6 135.0L1001.8 135.0L1002.0 137.2L1002.2 137.2L1002.4 135.0L1002.8 135.0L1003.0 137.2L1003.8 137.2L1004.0 139.4L1004.2 137.2L1004.4 139.4L1004.6 139.4L1004.8 141.6L1005.0 141.6L1005.2 139.4L1005.4 141.6L1005.6 143.8L1005.8 141.6L1006.0 146.0L1006.2 141.6L1006.4 143.8L1006.6 143.8L1006.8 148.2L1007.2 148.2L1007.4 143.8L1007.6 146.0L1007.8 150.4L1008.0 146.0L1008.2 150.4L1008.4 152.6L1008.6 148.2L1008.8 152.6L1009.0 152.6L1009.2 150.4L1009.4 150.4L1009.6 152.6L1010.0 152.6L1010.2 154.7L1010.4 159.1L1011.0 159.1L1011.2 161.3L1011.4 163.5L1011.6 163.5L1011.8 161.3L1012.0 161.3L1012.2 163.5L1012.4 165.7L1012.6 170.1L1013.6 170.1L1013.8 172.3L1014.0 172.3L1014.2 170.1L1014.4 172.3L1014.6 172.3L1014.8 174.5L1015.2 174.5L1015.4 172.3L1015.6 174.5L1015.8 172.3L1016.0 174.5L1016.2 174.5L1016.4 176.6L1016.6 174.5L1016.8 176.6L1017.0 174.5L1018.0 174.5L1018.2 176.6L1018.4 178.8L1018.6 176.6L1019.0 176.6L1019.2 181.0L1019.4 181.0L1019.6 176.6L1019.8 181.0L1020.0 178.8L1020.2 178.8L1020.4 181.0L1020.8 181.0L1021.0 178.8L1021.2 178.8L1021.4 183.2L1021.6 178.8L1021.8 183.2L1022.0 181.0L1022.2 183.2L1022.4 183.2L1022.6 185.4L1023.0 185.4L1023.2 181.0L1023.4 185.4L1023.6 183.2L1023.8 183.2L1024.0 187.6L1024.4 187.6L1024.6 185.4L1024.8 187.6L1025.2 187.6L1025.4 185.4L1025.6 185.4L1025.8 189.8L1026.0 187.6L1026.2 189.8L1026.4 187.6L1026.8 187.6L1027.0 189.8L1027.2 187.6L1027.4 187.6L1027.6 189.8L1027.8 189.8L1028.0 192.0L1028.2 187.6L1028.4 189.8L1028.6 189.8L1028.8 187.6L1029.0 192.0L1029.2 189.8L1029.4 192.0L1029.6 189.8L1029.8 194.2L1030.0 189.8L1030.2 189.8L1030.4 192.0L1030.6 192.0L1030.8 189.8L1031.0 189.8L1031.2 192.0L1031.4 189.8L1031.6 187.6L1031.8 192.0L1032.2 192.0L1032.4 189.8L1032.6 185.4L1032.8 185.4L1033.0 187.6L1033.2 185.4L1033.4 183.2L1033.6 185.4L1033.8 183.2L1034.0 181.0L1034.2 181.0L1034.4 178.8L1034.6 181.0L1034.8 181.0L1035.0 178.8L1035.2 176.6L1035.4 181.0L1035.6 176.6L1035.8 176.6L1036.0 174.5L1036.8 174.5L1037.0 172.3L1037.2 174.5L1037.4 172.3L1037.6 174.5L1038.0 174.5L1038.2 172.3L1038.4 172.3L1038.6 170.1L1039.0 170.1L1039.2 167.9L1039.4 170.1L1039.6 172.3L1039.8 170.1L1040.0 165.7L1040.2 167.9L1040.4 170.1L1040.6 165.7L1040.8 167.9L1041.0 165.7L1041.6 165.7L1041.8 167.9L1042.0 165.7L1042.2 167.9L1042.4 167.9L1042.6 165.7L1042.8 165.7L1043.0 167.9L1043.2 165.7L1043.4 167.9L1044.0 167.9L1044.2 170.1L1044.4 167.9L1044.6 165.7L1044.8 167.9L1045.0 165.7L1045.2 170.1L1045.4 165.7L1045.6 167.9L1045.8 165.7L1046.0 167.9L1046.2 165.7L1046.4 167.9L1046.6 165.7L1047.0 165.7L1047.2 167.9L1047.4 165.7L1047.6 167.9L1047.8 165.7L1048.0 165.7L1048.2 163.5L1048.4 165.7L1048.6 165.7L1048.8 163.5L1049.0 167.9L1049.4 167.9L1049.6 165.7L1049.8 167.9L1050.0 165.7L1050.2 163.5L1050.4 165.7L1050.8 165.7L1051.0 167.9L1052.8 167.9L1053.0 170.1L1053.4 170.1L1053.6 172.3L1053.8 172.3L1054.0 170.1L1054.2 170.1L1054.4 172.3L1054.6 170.1L1054.8 170.1L1055.0 174.5L1055.2 170.1L1055.4 172.3L1055.6 174.5L1055.8 170.1L1056.2 170.1L1056.4 172.3L1056.6 170.1L1057.0 170.1L1057.2 172.3L1057.4 170.1L1057.6 172.3L1057.8 174.5L1058.0 174.5L1058.2 172.3L1058.4 170.1L1058.6 174.5L1058.8 170.1L1059.0 172.3L1059.2 176.6L1059.4 172.3L1059.8 172.3L1060.0 174.5L1060.2 174.5L1060.4 176.6L1060.6 176.6L1060.8 170.1L1061.0 174.5L1061.2 172.3L1061.6 172.3L1061.8 174.5L1062.0 172.3L1062.4 172.3L1062.6 170.1L1062.8 167.9L1063.2 167.9L1063.4 165.7L1063.6 167.9L1063.8 165.7L1064.4 165.7L1064.6 163.5L1064.8 161.3L1065.0 161.3L1065.2 163.5L1065.4 161.3L1065.8 161.3L1066.0 156.9L1067.0 156.9L1067.2 154.7L1067.4 156.9L1067.6 156.9L1067.8 152.6L1068.0 154.7L1068.2 154.7L1068.4 152.6L1069.0 152.6L1069.2 150.4L1069.4 148.2L1069.6 152.6L1069.8 148.2L1070.0 148.2L1070.2 150.4L1070.4 152.6L1070.6 150.4L1070.8 152.6L1071.0 150.4L1071.2 150.4L1071.4 146.0L1071.6 150.4L1071.8 150.4L1072.0 148.2L1072.2 150.4L1072.4 148.2L1072.6 146.0L1072.8 150.4L1073.0 146.0L1073.2 148.2L1073.4 150.4L1073.6 148.2L1073.8 150.4L1074.0 148.2L1074.2 148.2L1074.4 150.4L1074.6 148.2L1074.8 146.0L1075.2 146.0L1075.4 148.2L1075.6 146.0L1076.0 146.0L1076.2 143.8L1076.4 146.0L1076.6 143.8L1076.8 146.0L1077.0 143.8L1077.4 143.8L1077.6 146.0L1077.8 146.0L1078.0 143.8L1078.2 143.8L1078.4 141.6L1078.6 141.6L1078.8 146.0L1079.0 141.6L1079.4 141.6L1079.6 143.8L1079.8 143.8L1080.0 141.6L1080.2 141.6L1080.4 139.4L1080.6 141.6L1080.8 143.8L1081.0 143.8L1081.2 139.4L1081.4 141.6L1081.6 139.4L1081.8 141.6L1082.0 143.8L1082.2 139.4L1082.4 143.8L1082.6 139.4L1082.8 139.4L1083.0 141.6L1083.2 143.8L1083.8 143.8L1084.0 141.6L1084.6 141.6L1084.8 143.8L1085.0 141.6L1085.2 141.6L1085.4 143.8L1085.6 141.6L1085.8 143.8L1086.0 141.6L1086.2 146.0L1087.0 146.0L1087.2 148.2L1087.8 148.2L1088.0 146.0L1088.4 146.0L1088.6 148.2L1088.8 146.0L1089.0 148.2L1089.2 146.0L1089.4 146.0L1089.6 143.8L1089.8 146.0L1090.0 148.2L1090.2 143.8L1090.4 146.0L1090.6 146.0L1090.8 143.8L1091.0 143.8L1091.2 146.0L1091.4 143.8L1091.6 146.0L1091.8 143.8L1092.0 146.0L1092.2 141.6L1092.4 146.0L1092.6 143.8L1092.8 141.6L1093.0 143.8L1093.2 141.6L1093.6 141.6L1093.8 143.8L1094.2 143.8L1094.4 141.6L1094.6 141.6L1094.8 143.8L1095.0 141.6L1095.2 141.6L1095.4 143.8L1095.6 146.0L1095.8 141.6L1096.0 141.6L1096.2 146.0L1096.4 143.8L1096.6 146.0L1096.8 143.8L1097.0 143.8L1097.2 146.0L1097.4 143.8L1098.0 143.8L1098.2 146.0L1098.4 143.8L1098.6 141.6L1098.8 146.0L1099.0 146.0L1099.2 143.8L1099.4 146.0L1099.6 143.8L1099.8 146.0L1100.4 146.0L1100.6 148.2L1100.8 150.4L1101.0 150.4L1101.2 146.0L1101.4 150.4L1101.6 148.2L1101.8 148.2L1102.0 152.6L1102.2 148.2L1102.4 150.4L1102.6 152.6L1102.8 148.2L1103.0 150.4L1103.2 148.2L1103.4 150.4L1103.6 148.2L1103.8 150.4L1104.0 150.4L1104.2 148.2L1104.4 148.2L1104.6 152.6L1104.8 150.4L1105.0 150.4L1105.2 148.2L1105.4 146.0L1105.6 148.2L1105.8 146.0L1106.0 146.0L1106.2 150.4L1106.4 148.2L1107.2 148.2L1107.4 150.4L1107.6 150.4L1107.8 148.2L1108.0 148.2L1108.2 152.6L1108.4 150.4L1108.6 150.4L1108.8 148.2L1109.0 152.6L1109.2 152.6L1109.4 150.4L1109.6 150.4L1109.8 152.6L1110.0 154.7L1110.2 156.9L1110.4 152.6L1110.6 154.7L1110.8 152.6L1111.0 154.7L1111.2 154.7L1111.4 156.9L1111.6 156.9L1111.8 154.7L1112.0 156.9L1112.2 156.9L1112.4 159.1L1112.6 156.9L1113.0 156.9L1113.2 161.3L1113.4 161.3L1113.6 159.1L1113.8 156.9L1114.6 156.9L1114.8 159.1L1115.0 156.9L1115.2 159.1L1115.4 156.9L1115.6 154.7L1115.8 159.1L1116.0 154.7L1116.2 156.9L1116.4 156.9L1116.6 154.7L1116.8 156.9L1117.0 156.9L1117.2 154.7L1117.4 156.9L1118.2 156.9L1118.4 154.7L1118.6 159.1L1118.8 156.9L1119.0 156.9L1119.2 159.1L1119.4 159.1L1119.6 161.3L1119.8 159.1L1120.0 161.3L1120.2 159.1L1120.4 161.3L1121.0 161.3L1121.2 156.9L1121.4 156.9L1121.6 159.1L1121.8 156.9L1122.0 156.9L1122.2 159.1L1122.4 159.1L1122.6 156.9L1122.8 154.7L1123.0 156.9L1123.2 156.9L1123.4 159.1L1123.6 154.7L1123.8 156.9L1124.0 156.9L1124.2 154.7L1124.4 156.9L1124.6 154.7L1124.8 154.7L1125.0 156.9L1125.2 154.7L1125.4 156.9L1125.6 156.9L1125.8 152.6L1126.0 156.9L1126.2 152.6L1126.4 152.6L1126.6 154.7L1126.8 154.7L1127.0 156.9L1127.2 154.7L1127.4 152.6L1127.6 152.6L1127.8 154.7L1128.0 152.6L1128.2 152.6L1128.4 154.7L1128.6 152.6L1128.8 152.6L1129.0 154.7L1129.2 152.6L1129.4 152.6L1129.6 150.4L1129.8 154.7L1130.0 150.4L1130.2 152.6L1130.4 150.4L1130.6 152.6L1130.8 150.4L1131.0 152.6L1131.2 152.6L1131.4 150.4L1131.6 150.4L1131.8 152.6L1132.0 148.2L1132.2 150.4L1132.4 150.4L1132.6 152.6L1132.8 150.4L1133.0 152.6L1133.4 152.6L1133.6 150.4L1133.8 152.6L1134.0 150.4L1134.2 152.6L1134.4 152.6L1134.6 154.7L1134.8 152.6L1135.0 150.4L1135.2 152.6L1135.4 154.7L1135.6 154.7L1135.8 150.4L1136.0 150.4L1136.2 152.6L1136.4 152.6L1136.6 154.7L1136.8 154.7L1137.0 152.6L1137.2 152.6L1137.4 154.7L1137.6 152.6L1137.8 150.4L1138.4 150.4L1138.6 152.6L1138.8 148.2L1139.6 148.2L1139.8 146.0L1140.0 146.0L1140.2 148.2L1140.4 146.0L1140.6 150.4L1140.8 148.2L1141.0 148.2L1141.2 146.0L1141.4 143.8L1141.6 146.0L1142.0 146.0L1142.2 143.8L1142.4 143.8L1142.6 141.6L1142.8 143.8L1143.0 141.6L1143.2 141.6L1143.4 139.4L1143.8 139.4L1144.0 135.0L1144.2 135.0L1144.4 132.8L1144.6 130.7L1144.8 130.7L1145.0 132.8L1145.2 126.3L1145.4 128.5L1145.6 128.5L1145.8 130.7L1146.0 126.3L1146.2 126.3L1146.4 128.5L1146.6 128.5L1146.8 126.3L1147.0 130.7L1147.2 126.3L1147.4 128.5L1147.6 126.3L1149.0 126.3L1149.2 130.7L1149.4 130.7L1149.6 126.3L1149.8 126.3L1150.0 130.7L1150.2 126.3L1150.4 130.7L1150.6 130.7L1150.8 126.3L1151.0 128.5L1151.2 128.5L1151.4 130.7L1151.6 126.3L1151.8 128.5L1152.0 126.3L1152.2 128.5L1152.4 126.3L1152.6 128.5L1152.8 128.5L1153.0 126.3L1153.2 128.5L1153.4 126.3L1154.8 126.3L1155.0 124.1L1155.2 126.3L1155.4 121.9L1155.6 124.1L1155.8 121.9L1156.2 121.9L1156.4 124.1L1156.6 124.1L1156.8 119.7L1157.0 121.9L1157.4 121.9L1157.6 119.7L1158.0 119.7L1158.2 117.5L1158.4 117.5L1158.6 121.9L1158.8 117.5L1159.4 117.5L1159.6 115.3L1160.0 115.3L1160.2 117.5L1160.4 115.3L1161.0 115.3L1161.2 113.1L1161.6 113.1L1161.8 115.3L1162.0 113.1L1162.2 115.3L1162.6 115.3L1162.8 110.9L1163.0 113.1L1163.2 110.9L1163.4 113.1L1163.6 110.9L1163.8 113.1L1164.0 115.3L1164.2 110.9L1164.4 115.3L1164.6 113.1L1164.8 110.9L1165.0 113.1L1165.2 113.1L1165.4 110.9L1165.6 110.9L1165.8 113.1L1166.0 113.1L1166.2 110.9L1166.4 110.9L1166.6 113.1L1166.8 110.9L1167.2 110.9L1167.4 106.6L1167.6 108.8L1167.8 106.6L1168.0 108.8L1168.2 104.4L1168.4 106.6L1168.6 106.6L1168.8 104.4L1169.4 104.4L1169.6 102.2L1170.0 102.2L1170.2 100.0L1170.4 102.2L1170.6 100.0L1170.8 97.8L1171.0 100.0L1171.2 102.2L1171.4 97.8L1171.6 100.0L1171.8 95.6L1172.0 97.8L1172.2 100.0L1172.6 100.0L1172.8 97.8L1173.0 100.0L1173.2 97.8L1173.4 95.6L1173.6 97.8L1174.0 97.8L1174.2 95.6L1175.2 95.6L1175.4 93.4L1175.6 95.6L1175.8 93.4L1176.0 95.6L1176.2 93.4L1176.4 93.4L1176.6 95.6L1176.8 95.6L1177.0 91.2L1177.2 93.4L1177.6 93.4L1177.8 91.2L1178.2 91.2L1178.4 89.0L1178.6 93.4L1178.8 93.4L1179.0 91.2L1179.6 91.2L1179.8 86.9L1180.0 89.0L1180.4 89.0L1180.6 86.9L1180.8 84.7L1181.0 86.9L1181.2 84.7L1181.4 86.9L1182.0 86.9L1182.2 84.7L1182.4 84.7L1182.6 82.5L1183.2 82.5L1183.4 84.7L1183.6 82.5L1183.8 84.7L1184.0 82.5L1184.2 84.7L1184.4 84.7L1184.6 80.3L1184.8 82.5L1185.0 84.7L1185.2 82.5L1185.4 80.3L1185.6 82.5L1185.8 80.3L1186.2 80.3L1186.4 78.1L1186.6 80.3L1186.8 78.1L1187.0 80.3L1187.4 80.3L1187.6 78.1L1187.8 80.3L1188.0 78.1L1188.2 80.3L1188.4 80.3L1188.6 78.1L1188.8 78.1L1189.0 80.3L1189.2 80.3L1189.4 78.1L1189.6 80.3L1189.8 78.1L1190.0 75.9L1190.4 75.9L1190.6 78.1L1190.8 73.7L1191.0 75.9L1191.4 75.9L1191.6 78.1L1191.8 75.9L1192.0 73.7L1192.2 78.1L1192.4 73.7L1192.6 75.9L1193.4 75.9L1193.6 73.7L1193.8 71.5L1194.0 69.3L1194.2 73.7L1194.6 73.7L1194.8 71.5L1195.0 69.3L1195.2 71.5L1195.4 73.7L1195.6 73.7L1195.8 67.1L1196.0 69.3L1196.4 69.3L1196.6 67.1L1196.8 69.3L1197.2 69.3L1197.4 67.1L1197.6 67.1L1197.8 69.3L1198.0 67.1L1198.2 67.1L1198.4 69.3L1198.6 67.1L1199.0 67.1L1199.2 64.9L1199.4 67.1L1199.6 69.3L1199.8 67.1L1200.0 67.1L1200.2 69.3L1200.4 69.3L1200.6 71.5L1200.8 69.3L1201.0 69.3L1201.2 71.5L1201.4 67.1L1201.6 71.5L1201.8 69.3L1202.0 71.5L1202.2 73.7L1202.4 73.7L1202.6 69.3L1202.8 71.5L1203.0 73.7L1203.2 71.5L1203.4 69.3L1203.6 73.7L1203.8 71.5L1204.0 73.7L1204.4 73.7L1204.6 75.9L1204.8 73.7L1205.0 73.7L1205.2 71.5L1205.4 73.7L1205.6 75.9L1206.4 75.9L1206.6 73.7L1206.8 75.9L1207.0 78.1L1207.2 78.1L1207.4 80.3L1207.8 80.3L1208.0 78.1L1208.6 78.1L1208.8 80.3L1209.0 82.5L1209.2 80.3L1209.4 80.3L1209.6 78.1L1209.8 82.5L1210.0 78.1L1210.2 82.5L1210.4 82.5L1210.6 80.3L1210.8 84.7L1211.0 80.3L1211.2 82.5L1211.4 84.7L1212.6 84.7L1212.8 82.5L1213.0 84.7L1213.2 86.9L1214.0 86.9L1214.2 89.0L1214.4 89.0L1214.6 86.9L1214.8 89.0L1215.0 86.9L1215.2 89.0L1215.4 86.9L1215.6 91.2L1215.8 91.2L1216.0 93.4L1216.6 93.4L1216.8 95.6L1217.0 91.2L1217.2 93.4L1217.4 91.2L1217.6 95.6L1217.8 93.4L1218.0 95.6L1218.2 97.8L1218.4 95.6L1218.6 95.6L1218.8 97.8L1219.0 95.6L1219.4 95.6L1219.6 97.8L1219.8 97.8L1220.0 93.4L1220.2 95.6L1220.4 93.4L1220.6 95.6L1220.8 97.8L1221.0 97.8L1221.2 95.6L1222.0 95.6L1222.2 97.8L1222.4 100.0L1222.6 95.6L1222.8 93.4L1223.0 95.6L1223.2 97.8L1223.4 97.8L1223.6 95.6L1223.8 95.6L1224.0 97.8L1224.2 100.0L1224.4 100.0L1224.6 95.6L1224.8 97.8L1225.2 97.8L1225.4 100.0L1225.6 97.8L1225.8 100.0L1226.0 100.0L1226.2 97.8L1226.8 97.8L1227.0 100.0L1227.4 100.0L1227.6 102.2L1227.8 97.8L1228.0 102.2L1228.2 100.0L1228.4 97.8L1228.6 100.0L1228.8 102.2L1229.0 100.0L1229.2 102.2L1229.4 100.0L1229.6 102.2L1229.8 100.0L1230.0 104.4L1230.2 100.0L1230.4 104.4L1230.6 102.2L1230.8 102.2L1231.0 100.0L1231.2 102.2L1231.4 104.4L1231.6 102.2L1231.8 102.2L1232.0 106.6L1232.8 106.6L1233.0 104.4L1233.2 106.6L1233.4 104.4L1233.6 106.6L1233.8 102.2L1234.0 104.4L1234.6 104.4L1234.8 102.2L1235.0 104.4L1235.2 102.2L1235.4 104.4L1235.6 106.6L1236.2 106.6L1236.4 104.4L1236.6 106.6L1236.8 104.4L1237.4 104.4L1237.6 106.6L1237.8 104.4L1238.0 106.6L1238.4 106.6L1238.6 104.4L1238.8 106.6L1239.2 106.6L1239.4 104.4L1239.8 104.4L1240.0 106.6L1240.2 104.4L1240.4 106.6L1240.6 104.4L1240.8 104.4L1241.0 102.2L1241.2 102.2L1241.4 106.6L1241.6 104.4L1241.8 102.2L1242.4 102.2L1242.6 104.4L1242.8 102.2L1243.0 104.4L1243.2 100.0L1243.4 104.4L1243.6 102.2L1243.8 104.4L1244.0 102.2L1244.2 100.0L1244.6 100.0L1244.8 102.2L1245.2 102.2L1245.4 100.0L1245.8 100.0L1246.0 102.2L1246.2 100.0L1246.4 100.0L1246.6 97.8L1246.8 100.0L1247.0 97.8L1247.2 97.8L1247.4 95.6L1247.8 95.6L1248.0 97.8L1248.4 97.8L1248.6 95.6L1249.0 95.6L1249.2 93.4L1249.4 93.4L1249.6 95.6L1249.8 95.6L1250.0 93.4L1250.2 93.4L1250.4 91.2L1250.8 91.2L1251.0 95.6L1251.2 93.4L1251.4 93.4L1251.6 95.6L1251.8 97.8L1252.0 95.6L1252.2 97.8L1252.4 97.8L1252.6 95.6L1253.0 95.6L1253.2 100.0L1253.4 100.0L1253.6 97.8L1253.8 100.0L1254.0 97.8L1254.2 97.8L1254.4 100.0L1254.6 97.8L1254.8 100.0L1255.0 97.8L1255.2 97.8L1255.4 100.0L1255.6 100.0L1255.8 97.8L1256.0 100.0L1256.2 97.8L1256.4 100.0L1256.6 97.8L1256.8 97.8L1257.0 100.0L1257.2 100.0L1257.4 102.2L1257.6 100.0L1257.8 100.0L1258.0 104.4L1258.2 100.0L1258.4 102.2L1258.6 100.0L1258.8 100.0L1259.0 102.2L1259.4 102.2L1259.6 100.0L1260.6 100.0L1260.8 97.8L1261.0 97.8L1261.2 100.0L1262.4 100.0L1262.6 97.8L1263.2 97.8L1263.4 100.0L1263.6 97.8L1263.8 100.0L1264.0 97.8L1264.2 100.0" stroke="#0000ff" stroke-width="3.4" stroke-linejoin="round" stroke-linecap="square" fill="none"/>
<path d="M196.50 383.5V54.0" stroke="#000" stroke-width="3.1" stroke-dasharray="11.56 5" fill="none"/>
<path d="M411.50 383.5V54.0" stroke="#000" stroke-width="3.1" stroke-dasharray="11.56 5" fill="none"/>
<path d="M626.50 383.5V54.0" stroke="#000" stroke-width="3.1" stroke-dasharray="11.56 5" fill="none"/>
<path d="M841.50 383.5V54.0" stroke="#000" stroke-width="3.1" stroke-dasharray="11.56 5" fill="none"/>
<path d="M1055.50 383.5V54.0" stroke="#000" stroke-width="3.1" stroke-dasharray="11.56 5" fill="none"/>
</g>
<rect x="188" y="54" width="1162" height="329" fill="none" stroke="#000" stroke-width="2"/>
<path d="M188 383v7.3M277 383v7.3M366 383v7.3M456 383v7.3M545 383v7.3M635 383v7.3M724 383v7.3M813 383v7.3M903 383v7.3M992 383v7.3M1082 383v7.3M1171 383v7.3M1261 383v7.3M1350 383v7.3M188 383h-7.3M1350 383h7.3M188 317h-7.3M1350 317h7.3M188 251h-7.3M1350 251h7.3M188 185h-7.3M1350 185h7.3M188 120h-7.3M1350 120h7.3M188 54h-7.3M1350 54h7.3" stroke="#000" stroke-width="2" fill="none"/>
<text x="187.50" y="412.6" font-size="22.6" text-anchor="middle" textLength="26.5" lengthAdjust="spacingAndGlyphs">23</text>
<text x="276.92" y="412.6" font-size="22.6" text-anchor="middle" textLength="13.2" lengthAdjust="spacingAndGlyphs">8</text>
<text x="366.35" y="412.6" font-size="22.6" text-anchor="middle" textLength="26.5" lengthAdjust="spacingAndGlyphs">18</text>
<text x="455.77" y="412.6" font-size="22.6" text-anchor="middle" textLength="13.2" lengthAdjust="spacingAndGlyphs">4</text>
<text x="545.19" y="412.6" font-size="22.6" text-anchor="middle" textLength="26.5" lengthAdjust="spacingAndGlyphs">14</text>
<text x="634.62" y="412.6" font-size="22.6" text-anchor="middle" textLength="13.2" lengthAdjust="spacingAndGlyphs">0</text>
<text x="724.04" y="412.6" font-size="22.6" text-anchor="middle" textLength="26.5" lengthAdjust="spacingAndGlyphs">10</text>
<text x="813.46" y="412.6" font-size="22.6" text-anchor="middle" textLength="26.5" lengthAdjust="spacingAndGlyphs">20</text>
<text x="902.88" y="412.6" font-size="22.6" text-anchor="middle" textLength="13.2" lengthAdjust="spacingAndGlyphs">6</text>
<text x="992.31" y="412.6" font-size="22.6" text-anchor="middle" textLength="26.5" lengthAdjust="spacingAndGlyphs">16</text>
<text x="1081.73" y="412.6" font-size="22.6" text-anchor="middle" textLength="13.2" lengthAdjust="spacingAndGlyphs">2</text>
<text x="1171.15" y="412.6" font-size="22.6" text-anchor="middle" textLength="26.5" lengthAdjust="spacingAndGlyphs">12</text>
<text x="1260.58" y="412.6" font-size="22.6" text-anchor="middle" textLength="26.5" lengthAdjust="spacingAndGlyphs">22</text>
<text x="1350.00" y="412.6" font-size="22.6" text-anchor="middle" textLength="13.2" lengthAdjust="spacingAndGlyphs">8</text>
<text x="172.9" y="390.10" font-size="22.6" text-anchor="end" textLength="53.0" lengthAdjust="spacingAndGlyphs">1007</text>
<text x="172.9" y="324.40" font-size="22.6" text-anchor="end" textLength="53.0" lengthAdjust="spacingAndGlyphs">1010</text>
<text x="172.9" y="258.70" font-size="22.6" text-anchor="end" textLength="53.0" lengthAdjust="spacingAndGlyphs">1013</text>
<text x="172.9" y="193.00" font-size="22.6" text-anchor="end" textLength="53.0" lengthAdjust="spacingAndGlyphs">1016</text>
<text x="172.9" y="127.30" font-size="22.6" text-anchor="end" textLength="53.0" lengthAdjust="spacingAndGlyphs">1019</text>
<text x="172.9" y="61.60" font-size="22.6" text-anchor="end" textLength="53.0" lengthAdjust="spacingAndGlyphs">1022</text>
<text x="1364.6" y="390.10" font-size="22.6" textLength="59.6" lengthAdjust="spacingAndGlyphs">29.74</text>
<text x="1364.6" y="324.40" font-size="22.6" textLength="59.6" lengthAdjust="spacingAndGlyphs">29.83</text>
<text x="1364.6" y="258.70" font-size="22.6" textLength="59.6" lengthAdjust="spacingAndGlyphs">29.92</text>
<text x="1364.6" y="193.00" font-size="22.6" textLength="59.6" lengthAdjust="spacingAndGlyphs">30.01</text>
<text x="1364.6" y="127.30" font-size="22.6" textLength="59.6" lengthAdjust="spacingAndGlyphs">30.09</text>
<text x="1364.6" y="61.60" font-size="22.6" textLength="59.6" lengthAdjust="spacingAndGlyphs">30.18</text>
<text x="605.51" y="441.20" font-size="22.6" textLength="194.65" lengthAdjust="spacingAndGlyphs">11/14/25-11/19/25</text><text x="813.40" y="441.20" font-size="22.6" textLength="118.59" lengthAdjust="spacingAndGlyphs">Hours(UTC)</text>
<text transform="translate(107.7,220.4) rotate(-90)" font-size="21.6" text-anchor="middle" textLength="31" lengthAdjust="spacingAndGlyphs">mb</text>
<g transform="translate(1448.2,219.6) rotate(-90)"><text x="-92.73" y="0.00" font-size="22.6" textLength="67.68" lengthAdjust="spacingAndGlyphs">Inches</text><text x="-18.43" y="0.00" font-size="22.6" textLength="20.08" lengthAdjust="spacingAndGlyphs">of</text><text x="8.28" y="0.00" font-size="22.6" textLength="84.45" lengthAdjust="spacingAndGlyphs">Mercury</text></g>
<rect x="188" y="11" width="425" height="36" rx="4" ry="4" fill="#fff" fill-opacity="0.8" stroke="#cccccc" stroke-opacity="0.8" stroke-width="2"/>
<path d="M195 28.5H240" stroke="#0000ff" stroke-width="3" fill="none"/>
<text x="254.00" y="35.00" font-size="22.6" textLength="33.55" lengthAdjust="spacingAndGlyphs">2m</text><text x="294.17" y="35.00" font-size="22.6" textLength="42.81" lengthAdjust="spacingAndGlyphs">MSL</text><text x="343.60" y="35.00" font-size="22.6" textLength="88.96" lengthAdjust="spacingAndGlyphs">Pressure</text>
<rect x="480" y="21" width="42" height="14" fill="#d3d3d3" fill-opacity="0.57" stroke="#d3d3d3" stroke-opacity="0.57" stroke-width="2.08"/>
<text x="539" y="35" font-size="22.6" textLength="66.3" lengthAdjust="spacingAndGlyphs">NIGHT</text>
</svg></body></html>
